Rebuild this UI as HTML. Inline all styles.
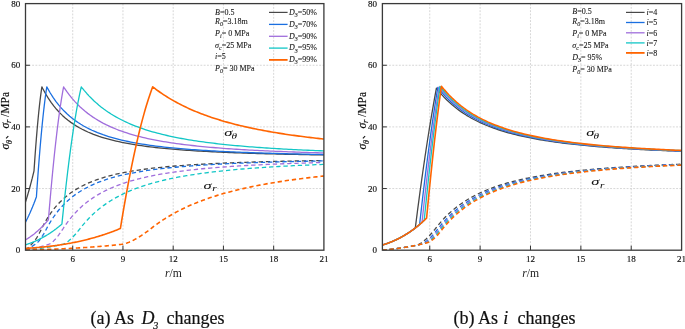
<!DOCTYPE html>
<html><head><meta charset="utf-8">
<style>
html,body{margin:0;padding:0;background:#fff;}
body{width:685px;height:329px;overflow:hidden;}
svg{display:block;font-family:"Liberation Serif",serif;-webkit-font-smoothing:antialiased;will-change:transform;}
.it{font-style:italic;}
</style></head>
<body>
<svg width="685" height="329" viewBox="0 0 685 329">
<defs>
<clipPath id="clipL"><rect x="25.5" y="3.6" width="298.4" height="246.6"/></clipPath>
<clipPath id="clipR"><rect x="382.4" y="3.6" width="299.2" height="246.6"/></clipPath>
</defs>
<rect width="685" height="329" fill="#fff"/>
<path d="M72.72,3.6 V250.2 M122.96,3.6 V250.2 M173.19,3.6 V250.2 M223.43,3.6 V250.2 M273.66,3.6 V250.2 M25.5,188.55 H323.9 M25.5,126.9 H323.9 M25.5,65.25 H323.9" stroke="#cdcdcd" stroke-width="0.8" stroke-dasharray="1.9 1.4" fill="none"/>
<path d="M25.50,201.99 L25.63,201.58 L25.77,201.13 L25.90,200.71 L26.05,200.25 L26.18,199.83 L26.32,199.37 L26.46,198.91 L26.59,198.48 L26.74,198.02 L26.87,197.59 L27.01,197.12 L27.15,196.64 L27.28,196.20 L27.42,195.73 L27.56,195.28 L27.70,194.80 L27.84,194.32 L27.97,193.87 L28.11,193.38 L28.25,192.92 L28.39,192.43 L28.53,191.93 L28.66,191.47 L28.80,190.97 L28.93,190.51 L29.08,190.00 L29.22,189.49 L29.35,189.02 L29.49,188.51 L29.62,188.03 L29.77,187.51 L29.91,186.99 L30.04,186.51 L30.18,185.99 L30.31,185.50 L30.45,184.97 L30.60,184.44 L30.73,183.94 L30.87,183.41 L31.00,182.91 L31.14,182.36 L31.29,181.82 L31.42,181.31 L31.56,180.76 L31.69,180.25 L31.83,179.70 L31.97,179.14 L32.11,178.63 L32.25,178.06 L32.38,177.54 L32.52,176.97 L32.66,176.40 L32.79,175.88 L32.94,175.30 L33.07,174.77 L33.21,174.19 L33.35,173.60 L33.48,173.06 L33.63,172.48 L33.76,171.93 L33.90,171.34 L34.01,170.86 L34.03,170.53 L34.17,168.43 L34.31,166.34 L34.45,164.44 L34.59,162.39 L34.72,160.53 L34.86,158.53 L35.00,156.55 L35.13,154.74 L35.28,152.80 L35.41,151.03 L35.55,149.14 L35.69,147.27 L35.82,145.56 L35.97,143.72 L36.10,142.05 L36.24,140.26 L36.38,138.50 L36.51,136.89 L36.66,135.16 L36.79,133.59 L36.93,131.90 L37.07,130.24 L37.20,128.73 L37.34,127.11 L37.48,125.63 L37.62,124.06 L37.76,122.50 L37.89,121.08 L38.03,119.57 L38.16,118.19 L38.31,116.72 L38.45,115.27 L38.58,113.95 L38.72,112.55 L38.85,111.27 L39.00,109.90 L39.14,108.56 L39.27,107.34 L39.41,106.03 L39.54,104.85 L39.68,103.59 L39.83,102.35 L39.96,101.23 L40.10,100.04 L40.23,98.95 L40.37,97.80 L40.52,96.67 L40.65,95.64 L40.79,94.55 L40.92,93.56 L41.06,92.52 L41.20,91.49 L41.34,90.56 L41.48,89.58 L41.61,88.69 L41.75,87.75 L41.89,86.83 L42.60,88.24 L45.43,93.51 L48.25,98.20 L51.08,102.39 L53.91,106.16 L56.74,109.55 L59.56,112.62 L62.39,115.40 L65.22,117.94 L68.04,120.25 L70.87,122.37 L73.70,124.31 L76.53,126.10 L79.35,127.75 L82.18,129.27 L85.01,130.68 L87.83,131.99 L90.66,133.20 L93.49,134.33 L96.32,135.38 L99.14,136.37 L101.97,137.29 L104.80,138.15 L107.62,138.96 L110.45,139.72 L113.28,140.44 L116.11,141.11 L118.93,141.74 L121.76,142.34 L124.59,142.91 L127.41,143.44 L130.24,143.95 L133.07,144.43 L135.90,144.88 L138.72,145.32 L141.55,145.73 L144.38,146.12 L147.20,146.49 L150.03,146.85 L152.86,147.18 L155.69,147.51 L158.51,147.81 L161.34,148.11 L164.17,148.39 L166.99,148.66 L169.82,148.92 L172.65,149.16 L175.48,149.40 L178.30,149.63 L181.13,149.84 L183.96,150.05 L186.78,150.25 L189.61,150.45 L192.44,150.63 L195.27,150.81 L198.09,150.98 L200.92,151.15 L203.75,151.31 L206.57,151.46 L209.40,151.61 L212.23,151.75 L215.06,151.89 L217.88,152.03 L220.71,152.15 L223.54,152.28 L226.36,152.40 L229.19,152.52 L232.02,152.63 L234.85,152.74 L237.67,152.84 L240.50,152.95 L243.33,153.05 L246.15,153.14 L248.98,153.23 L251.81,153.33 L254.64,153.41 L257.46,153.50 L260.29,153.58 L263.12,153.66 L265.94,153.74 L268.77,153.81 L271.60,153.89 L274.43,153.96 L277.25,154.03 L280.08,154.10 L282.91,154.16 L285.73,154.23 L288.56,154.29 L291.39,154.35 L294.22,154.41 L297.04,154.47 L299.87,154.52 L302.70,154.58 L305.52,154.63 L308.35,154.68 L311.18,154.73 L314.01,154.78 L316.83,154.83 L319.66,154.88 L322.49,154.92 L323.90,154.94" stroke="#484848" stroke-width="1.3" fill="none" stroke-linejoin="round" clip-path="url(#clipL)"/>
<path d="M25.50,250.20 L25.63,250.08 L25.77,249.95 L25.90,249.83 L26.05,249.70 L26.18,249.58 L26.32,249.45 L26.46,249.32 L26.59,249.19 L26.74,249.06 L26.87,248.94 L27.01,248.80 L27.15,248.67 L27.28,248.55 L27.42,248.41 L27.56,248.28 L27.70,248.15 L27.84,248.01 L27.97,247.88 L28.11,247.75 L28.25,247.62 L28.39,247.48 L28.53,247.34 L28.66,247.21 L28.80,247.07 L28.93,246.94 L29.08,246.80 L29.22,246.65 L29.35,246.52 L29.49,246.38 L29.62,246.25 L29.77,246.10 L29.91,245.96 L30.04,245.82 L30.18,245.68 L30.31,245.54 L30.45,245.39 L30.60,245.25 L30.73,245.11 L30.87,244.96 L31.00,244.82 L31.14,244.67 L31.29,244.52 L31.42,244.38 L31.56,244.23 L31.69,244.09 L31.83,243.94 L31.97,243.78 L32.11,243.64 L32.25,243.48 L32.38,243.34 L32.52,243.19 L32.66,243.03 L32.79,242.88 L32.94,242.73 L33.07,242.58 L33.21,242.42 L33.35,242.26 L33.48,242.11 L33.63,241.95 L33.76,241.80 L33.90,241.64 L34.01,241.52 L34.03,241.49 L34.17,241.33 L34.31,241.16 L34.45,241.00 L34.59,240.82 L34.72,240.65 L34.86,240.47 L35.00,240.28 L35.13,240.11 L35.28,239.91 L35.41,239.73 L35.55,239.53 L35.69,239.32 L35.82,239.13 L35.97,238.92 L36.10,238.72 L36.24,238.51 L36.38,238.29 L36.51,238.08 L36.66,237.85 L36.79,237.64 L36.93,237.41 L37.07,237.18 L37.20,236.96 L37.34,236.72 L37.48,236.50 L37.62,236.26 L37.76,236.01 L37.89,235.79 L38.03,235.54 L38.16,235.30 L38.31,235.05 L38.45,234.80 L38.58,234.56 L38.72,234.30 L38.85,234.06 L39.00,233.79 L39.14,233.53 L39.27,233.28 L39.41,233.02 L39.54,232.77 L39.68,232.50 L39.83,232.22 L39.96,231.97 L40.10,231.69 L40.23,231.44 L40.37,231.16 L40.52,230.88 L40.65,230.62 L40.79,230.34 L40.92,230.08 L41.06,229.80 L41.20,229.52 L41.34,229.25 L41.48,228.97 L41.61,228.70 L41.75,228.41 L41.89,228.13 L42.60,226.72 L45.43,221.49 L48.25,216.84 L51.08,212.67 L53.91,208.93 L56.74,205.56 L59.56,202.52 L62.39,199.75 L65.22,197.23 L68.04,194.94 L70.87,192.83 L73.70,190.90 L76.53,189.13 L79.35,187.49 L82.18,185.98 L85.01,184.58 L87.83,183.28 L90.66,182.08 L93.49,180.96 L96.32,179.91 L99.14,178.93 L101.97,178.02 L104.80,177.16 L107.62,176.36 L110.45,175.60 L113.28,174.89 L116.11,174.23 L118.93,173.60 L121.76,173.00 L124.59,172.44 L127.41,171.91 L130.24,171.40 L133.07,170.93 L135.90,170.48 L138.72,170.05 L141.55,169.64 L144.38,169.25 L147.20,168.88 L150.03,168.53 L152.86,168.19 L155.69,167.87 L158.51,167.57 L161.34,167.28 L164.17,167.00 L166.99,166.73 L169.82,166.47 L172.65,166.23 L175.48,165.99 L178.30,165.77 L181.13,165.55 L183.96,165.34 L186.78,165.14 L189.61,164.95 L192.44,164.77 L195.27,164.59 L198.09,164.42 L200.92,164.26 L203.75,164.10 L206.57,163.94 L209.40,163.80 L212.23,163.65 L215.06,163.52 L217.88,163.38 L220.71,163.26 L223.54,163.13 L226.36,163.01 L229.19,162.90 L232.02,162.79 L234.85,162.68 L237.67,162.57 L240.50,162.47 L243.33,162.37 L246.15,162.28 L248.98,162.18 L251.81,162.09 L254.64,162.01 L257.46,161.92 L260.29,161.84 L263.12,161.76 L265.94,161.68 L268.77,161.61 L271.60,161.54 L274.43,161.46 L277.25,161.40 L280.08,161.33 L282.91,161.26 L285.73,161.20 L288.56,161.14 L291.39,161.08 L294.22,161.02 L297.04,160.96 L299.87,160.91 L302.70,160.85 L305.52,160.80 L308.35,160.75 L311.18,160.70 L314.01,160.65 L316.83,160.60 L319.66,160.55 L322.49,160.51 L323.90,160.49" stroke="#484848" stroke-width="1.3" fill="none" stroke-dasharray="4.3 2.9" clip-path="url(#clipL)"/>
<path d="M25.50,222.09 L25.67,221.76 L25.86,221.41 L26.03,221.08 L26.21,220.72 L26.38,220.38 L26.57,220.02 L26.75,219.65 L26.92,219.31 L27.11,218.94 L27.28,218.59 L27.46,218.22 L27.65,217.84 L27.82,217.48 L28.00,217.10 L28.17,216.74 L28.36,216.36 L28.54,215.97 L28.71,215.60 L28.90,215.21 L29.07,214.84 L29.25,214.44 L29.44,214.04 L29.61,213.66 L29.79,213.25 L29.96,212.87 L30.15,212.46 L30.33,212.04 L30.50,211.66 L30.69,211.24 L30.86,210.85 L31.04,210.42 L31.23,209.99 L31.40,209.60 L31.58,209.16 L31.75,208.76 L31.94,208.32 L32.12,207.88 L32.29,207.47 L32.48,207.03 L32.65,206.61 L32.83,206.16 L33.02,205.71 L33.19,205.29 L33.37,204.83 L33.54,204.40 L33.73,203.94 L33.91,203.47 L34.08,203.03 L34.27,202.56 L34.44,202.12 L34.62,201.65 L34.81,201.17 L34.98,200.72 L35.16,200.23 L35.33,199.78 L35.52,199.29 L35.70,198.80 L35.87,198.34 L36.06,197.84 L36.23,197.38 L36.40,196.91 L36.41,196.73 L36.58,194.22 L36.77,191.52 L36.95,188.85 L37.12,186.41 L37.31,183.80 L37.48,181.41 L37.66,178.85 L37.85,176.31 L38.02,174.00 L38.20,171.52 L38.37,169.25 L38.56,166.83 L38.74,164.43 L38.91,162.24 L39.10,159.89 L39.27,157.75 L39.45,155.46 L39.64,153.20 L39.81,151.13 L39.99,148.92 L40.16,146.90 L40.35,144.75 L40.53,142.62 L40.70,140.67 L40.89,138.60 L41.06,136.71 L41.24,134.68 L41.43,132.69 L41.60,130.87 L41.78,128.93 L41.95,127.16 L42.14,125.27 L42.32,123.41 L42.49,121.72 L42.68,119.91 L42.85,118.27 L43.03,116.52 L43.22,114.79 L43.39,113.22 L43.57,111.55 L43.74,110.03 L43.93,108.41 L44.11,106.82 L44.28,105.38 L44.47,103.84 L44.64,102.44 L44.82,100.96 L45.01,99.50 L45.18,98.18 L45.36,96.78 L45.54,95.51 L45.72,94.16 L45.90,92.84 L46.08,91.64 L46.26,90.38 L46.43,89.23 L46.62,88.01 L46.80,86.83 L47.49,88.13 L50.27,93.00 L53.05,97.37 L55.83,101.32 L58.61,104.89 L61.38,108.13 L64.16,111.08 L66.94,113.78 L69.72,116.25 L72.50,118.52 L75.27,120.60 L78.05,122.53 L80.83,124.30 L83.61,125.95 L86.39,127.48 L89.16,128.90 L91.94,130.22 L94.72,131.45 L97.50,132.61 L100.28,133.69 L103.05,134.70 L105.83,135.64 L108.61,136.53 L111.39,137.37 L114.17,138.16 L116.94,138.90 L119.72,139.61 L122.50,140.27 L125.28,140.90 L128.05,141.49 L130.83,142.06 L133.61,142.59 L136.39,143.10 L139.17,143.58 L141.94,144.04 L144.72,144.48 L147.50,144.90 L150.28,145.29 L153.06,145.67 L155.83,146.03 L158.61,146.38 L161.39,146.71 L164.17,147.03 L166.95,147.33 L169.72,147.62 L172.50,147.90 L175.28,148.17 L178.06,148.42 L180.84,148.67 L183.61,148.91 L186.39,149.13 L189.17,149.35 L191.95,149.56 L194.73,149.76 L197.50,149.96 L200.28,150.15 L203.06,150.33 L205.84,150.50 L208.62,150.67 L211.39,150.84 L214.17,150.99 L216.95,151.14 L219.73,151.29 L222.50,151.43 L225.28,151.57 L228.06,151.70 L230.84,151.83 L233.62,151.96 L236.39,152.08 L239.17,152.19 L241.95,152.31 L244.73,152.42 L247.51,152.52 L250.28,152.63 L253.06,152.73 L255.84,152.83 L258.62,152.92 L261.40,153.01 L264.17,153.10 L266.95,153.19 L269.73,153.27 L272.51,153.35 L275.29,153.43 L278.06,153.51 L280.84,153.59 L283.62,153.66 L286.40,153.73 L289.18,153.80 L291.95,153.87 L294.73,153.94 L297.51,154.00 L300.29,154.06 L303.07,154.12 L305.84,154.18 L308.62,154.24 L311.40,154.30 L314.18,154.35 L316.96,154.41 L319.73,154.46 L322.51,154.51 L323.90,154.54" stroke="#1a6fe0" stroke-width="1.3" fill="none" stroke-linejoin="round" clip-path="url(#clipL)"/>
<path d="M25.50,250.20 L25.67,250.11 L25.86,250.01 L26.03,249.92 L26.21,249.82 L26.38,249.73 L26.57,249.63 L26.75,249.53 L26.92,249.43 L27.11,249.33 L27.28,249.24 L27.46,249.13 L27.65,249.03 L27.82,248.93 L28.00,248.83 L28.17,248.73 L28.36,248.63 L28.54,248.52 L28.71,248.42 L28.90,248.31 L29.07,248.21 L29.25,248.10 L29.44,247.99 L29.61,247.89 L29.79,247.78 L29.96,247.68 L30.15,247.57 L30.33,247.46 L30.50,247.35 L30.69,247.24 L30.86,247.13 L31.04,247.02 L31.23,246.90 L31.40,246.80 L31.58,246.68 L31.75,246.57 L31.94,246.45 L32.12,246.34 L32.29,246.23 L32.48,246.11 L32.65,245.99 L32.83,245.87 L33.02,245.75 L33.19,245.64 L33.37,245.52 L33.54,245.40 L33.73,245.28 L33.91,245.16 L34.08,245.04 L34.27,244.91 L34.44,244.80 L34.62,244.67 L34.81,244.54 L34.98,244.42 L35.16,244.29 L35.33,244.17 L35.52,244.04 L35.70,243.91 L35.87,243.79 L36.06,243.66 L36.23,243.54 L36.40,243.41 L36.41,243.40 L36.58,243.28 L36.77,243.13 L36.95,242.98 L37.12,242.84 L37.31,242.67 L37.48,242.51 L37.66,242.34 L37.85,242.16 L38.02,241.98 L38.20,241.79 L38.37,241.60 L38.56,241.40 L38.74,241.19 L38.91,240.99 L39.10,240.77 L39.27,240.56 L39.45,240.33 L39.64,240.09 L39.81,239.87 L39.99,239.63 L40.16,239.40 L40.35,239.14 L40.53,238.88 L40.70,238.64 L40.89,238.38 L41.06,238.13 L41.24,237.85 L41.43,237.57 L41.60,237.31 L41.78,237.03 L41.95,236.76 L42.14,236.47 L42.32,236.17 L42.49,235.90 L42.68,235.60 L42.85,235.31 L43.03,235.01 L43.22,234.70 L43.39,234.41 L43.57,234.09 L43.74,233.80 L43.93,233.48 L44.11,233.15 L44.28,232.85 L44.47,232.52 L44.64,232.22 L44.82,231.89 L45.01,231.55 L45.18,231.24 L45.36,230.90 L45.54,230.59 L45.72,230.25 L45.90,229.91 L46.08,229.59 L46.26,229.24 L46.43,228.92 L46.62,228.57 L46.80,228.22 L47.49,226.93 L50.27,222.09 L53.05,217.74 L55.83,213.82 L58.61,210.26 L61.38,207.04 L64.16,204.10 L66.94,201.42 L69.72,198.97 L72.50,196.71 L75.27,194.64 L78.05,192.73 L80.83,190.96 L83.61,189.32 L86.39,187.80 L89.16,186.39 L91.94,185.07 L94.72,183.85 L97.50,182.70 L100.28,181.63 L103.05,180.63 L105.83,179.68 L108.61,178.80 L111.39,177.96 L114.17,177.18 L116.94,176.44 L119.72,175.74 L122.50,175.08 L125.28,174.46 L128.05,173.87 L130.83,173.30 L133.61,172.77 L136.39,172.27 L139.17,171.79 L141.94,171.33 L144.72,170.90 L147.50,170.48 L150.28,170.09 L153.06,169.71 L155.83,169.35 L158.61,169.01 L161.39,168.68 L164.17,168.36 L166.95,168.06 L169.72,167.77 L172.50,167.50 L175.28,167.23 L178.06,166.98 L180.84,166.73 L183.61,166.50 L186.39,166.27 L189.17,166.05 L191.95,165.84 L194.73,165.64 L197.50,165.45 L200.28,165.26 L203.06,165.08 L205.84,164.91 L208.62,164.74 L211.39,164.58 L214.17,164.42 L216.95,164.27 L219.73,164.12 L222.50,163.98 L225.28,163.84 L228.06,163.71 L230.84,163.58 L233.62,163.46 L236.39,163.34 L239.17,163.22 L241.95,163.11 L244.73,163.00 L247.51,162.90 L250.28,162.79 L253.06,162.69 L255.84,162.60 L258.62,162.50 L261.40,162.41 L264.17,162.32 L266.95,162.24 L269.73,162.15 L272.51,162.07 L275.29,161.99 L278.06,161.91 L280.84,161.84 L283.62,161.77 L286.40,161.70 L289.18,161.63 L291.95,161.56 L294.73,161.49 L297.51,161.43 L300.29,161.37 L303.07,161.31 L305.84,161.25 L308.62,161.19 L311.40,161.13 L314.18,161.08 L316.96,161.02 L319.73,160.97 L322.51,160.92 L323.90,160.89" stroke="#1a6fe0" stroke-width="1.3" fill="none" stroke-dasharray="4.3 2.9" clip-path="url(#clipL)"/>
<path d="M25.50,239.87 L25.80,239.69 L26.14,239.49 L26.44,239.31 L26.77,239.10 L27.08,238.91 L27.41,238.70 L27.74,238.49 L28.04,238.29 L28.37,238.08 L28.68,237.88 L29.01,237.66 L29.34,237.43 L29.64,237.22 L29.97,237.00 L30.28,236.78 L30.61,236.55 L30.94,236.31 L31.24,236.09 L31.57,235.85 L31.88,235.63 L32.21,235.38 L32.54,235.14 L32.84,234.90 L33.17,234.65 L33.48,234.41 L33.81,234.16 L34.14,233.89 L34.45,233.65 L34.78,233.38 L35.08,233.13 L35.41,232.86 L35.74,232.59 L36.05,232.33 L36.38,232.05 L36.68,231.79 L37.01,231.50 L37.34,231.22 L37.65,230.95 L37.98,230.65 L38.28,230.38 L38.61,230.08 L38.94,229.78 L39.25,229.49 L39.58,229.19 L39.88,228.90 L40.21,228.58 L40.55,228.27 L40.85,227.97 L41.18,227.65 L41.49,227.35 L41.82,227.02 L42.15,226.69 L42.45,226.38 L42.78,226.04 L43.09,225.73 L43.42,225.38 L43.75,225.04 L44.05,224.71 L44.38,224.36 L44.69,224.03 L45.02,223.67 L45.32,223.34 L45.65,222.98 L45.98,222.61 L46.29,222.26 L46.62,221.89 L46.92,221.54 L47.25,221.16 L47.58,220.78 L47.89,220.42 L48.22,220.03 L48.40,219.82 L48.52,218.37 L48.86,214.36 L49.19,210.41 L49.49,206.80 L49.82,202.94 L50.13,199.42 L50.46,195.66 L50.79,191.95 L51.09,188.56 L51.42,184.95 L51.73,181.66 L52.06,178.14 L52.39,174.67 L52.69,171.51 L53.02,168.14 L53.33,165.07 L53.66,161.80 L53.99,158.57 L54.29,155.64 L54.62,152.51 L54.93,149.67 L55.26,146.64 L55.59,143.66 L55.89,140.95 L56.23,138.07 L56.53,135.45 L56.86,132.67 L57.19,129.93 L57.50,127.45 L57.83,124.81 L58.13,122.42 L58.46,119.87 L58.79,117.38 L59.10,115.12 L59.43,112.73 L59.73,110.56 L60.06,108.26 L60.39,106.01 L60.70,103.98 L61.03,101.83 L61.33,99.89 L61.66,97.83 L61.99,95.83 L62.30,94.02 L62.63,92.12 L62.93,90.40 L63.27,88.59 L63.60,86.83 L64.25,87.83 L66.86,91.63 L69.47,95.13 L72.08,98.36 L74.69,101.35 L77.30,104.11 L79.91,106.68 L82.51,109.07 L85.12,111.29 L87.73,113.37 L90.34,115.31 L92.95,117.12 L95.56,118.82 L98.17,120.42 L100.78,121.92 L103.39,123.33 L106.00,124.66 L108.61,125.91 L111.22,127.09 L113.83,128.21 L116.44,129.27 L119.05,130.27 L121.66,131.22 L124.27,132.13 L126.88,132.98 L129.49,133.80 L132.10,134.57 L134.71,135.31 L137.32,136.01 L139.93,136.68 L142.53,137.32 L145.14,137.94 L147.75,138.52 L150.36,139.08 L152.97,139.61 L155.58,140.12 L158.19,140.62 L160.80,141.09 L163.41,141.54 L166.02,141.97 L168.63,142.39 L171.24,142.79 L173.85,143.17 L176.46,143.54 L179.07,143.89 L181.68,144.24 L184.29,144.57 L186.90,144.89 L189.51,145.19 L192.12,145.49 L194.73,145.77 L197.34,146.05 L199.95,146.31 L202.55,146.57 L205.16,146.82 L207.77,147.06 L210.38,147.29 L212.99,147.52 L215.60,147.74 L218.21,147.95 L220.82,148.15 L223.43,148.35 L226.04,148.54 L228.65,148.73 L231.26,148.91 L233.87,149.08 L236.48,149.25 L239.09,149.42 L241.70,149.58 L244.31,149.73 L246.92,149.88 L249.53,150.03 L252.14,150.17 L254.75,150.31 L257.36,150.45 L259.97,150.58 L262.58,150.71 L265.18,150.83 L267.79,150.95 L270.40,151.07 L273.01,151.19 L275.62,151.30 L278.23,151.41 L280.84,151.51 L283.45,151.62 L286.06,151.72 L288.67,151.82 L291.28,151.91 L293.89,152.01 L296.50,152.10 L299.11,152.19 L301.72,152.28 L304.33,152.36 L306.94,152.44 L309.55,152.53 L312.16,152.60 L314.77,152.68 L317.38,152.76 L319.99,152.83 L322.60,152.91 L323.90,152.94" stroke="#a06edc" stroke-width="1.3" fill="none" stroke-linejoin="round" clip-path="url(#clipL)"/>
<path d="M25.50,250.20 L25.80,250.14 L26.14,250.08 L26.44,250.02 L26.77,249.95 L27.08,249.89 L27.41,249.82 L27.74,249.76 L28.04,249.69 L28.37,249.63 L28.68,249.56 L29.01,249.49 L29.34,249.43 L29.64,249.36 L29.97,249.29 L30.28,249.23 L30.61,249.15 L30.94,249.08 L31.24,249.02 L31.57,248.94 L31.88,248.88 L32.21,248.80 L32.54,248.73 L32.84,248.66 L33.17,248.58 L33.48,248.51 L33.81,248.44 L34.14,248.36 L34.45,248.29 L34.78,248.21 L35.08,248.14 L35.41,248.06 L35.74,247.98 L36.05,247.91 L36.38,247.82 L36.68,247.75 L37.01,247.67 L37.34,247.58 L37.65,247.51 L37.98,247.42 L38.28,247.35 L38.61,247.26 L38.94,247.17 L39.25,247.09 L39.58,247.01 L39.88,246.93 L40.21,246.84 L40.55,246.75 L40.85,246.67 L41.18,246.58 L41.49,246.49 L41.82,246.40 L42.15,246.31 L42.45,246.22 L42.78,246.13 L43.09,246.04 L43.42,245.95 L43.75,245.85 L44.05,245.76 L44.38,245.66 L44.69,245.57 L45.02,245.47 L45.32,245.38 L45.65,245.28 L45.98,245.18 L46.29,245.09 L46.62,244.99 L46.92,244.89 L47.25,244.79 L47.58,244.68 L47.89,244.59 L48.22,244.48 L48.40,244.42 L48.52,244.38 L48.86,244.26 L49.19,244.12 L49.49,243.98 L49.82,243.82 L50.13,243.65 L50.46,243.45 L50.79,243.25 L51.09,243.04 L51.42,242.81 L51.73,242.58 L52.06,242.32 L52.39,242.05 L52.69,241.78 L53.02,241.49 L53.33,241.21 L53.66,240.89 L53.99,240.57 L54.29,240.26 L54.62,239.91 L54.93,239.58 L55.26,239.22 L55.59,238.85 L55.89,238.49 L56.23,238.10 L56.53,237.74 L56.86,237.33 L57.19,236.92 L57.50,236.53 L57.83,236.11 L58.13,235.71 L58.46,235.27 L58.79,234.82 L59.10,234.41 L59.43,233.95 L59.73,233.52 L60.06,233.06 L60.39,232.59 L60.70,232.15 L61.03,231.66 L61.33,231.22 L61.66,230.73 L61.99,230.23 L62.30,229.78 L62.63,229.28 L62.93,228.81 L63.27,228.31 L63.60,227.80 L64.25,226.81 L66.86,223.05 L69.47,219.59 L72.08,216.40 L74.69,213.45 L77.30,210.71 L79.91,208.17 L82.51,205.81 L85.12,203.62 L87.73,201.57 L90.34,199.65 L92.95,197.86 L95.56,196.18 L98.17,194.60 L100.78,193.12 L103.39,191.72 L106.00,190.41 L108.61,189.17 L111.22,188.00 L113.83,186.89 L116.44,185.85 L119.05,184.86 L121.66,183.92 L124.27,183.03 L126.88,182.18 L129.49,181.37 L132.10,180.61 L134.71,179.88 L137.32,179.18 L139.93,178.52 L142.53,177.89 L145.14,177.28 L147.75,176.71 L150.36,176.16 L152.97,175.63 L155.58,175.12 L158.19,174.64 L160.80,174.17 L163.41,173.73 L166.02,173.30 L168.63,172.89 L171.24,172.49 L173.85,172.11 L176.46,171.75 L179.07,171.39 L181.68,171.06 L184.29,170.73 L186.90,170.42 L189.51,170.11 L192.12,169.82 L194.73,169.54 L197.34,169.27 L199.95,169.00 L202.55,168.75 L205.16,168.50 L207.77,168.27 L210.38,168.04 L212.99,167.81 L215.60,167.60 L218.21,167.39 L220.82,167.19 L223.43,166.99 L226.04,166.80 L228.65,166.62 L231.26,166.44 L233.87,166.27 L236.48,166.10 L239.09,165.94 L241.70,165.78 L244.31,165.62 L246.92,165.48 L249.53,165.33 L252.14,165.19 L254.75,165.05 L257.36,164.92 L259.97,164.79 L262.58,164.66 L265.18,164.54 L267.79,164.42 L270.40,164.30 L273.01,164.19 L275.62,164.08 L278.23,163.97 L280.84,163.86 L283.45,163.76 L286.06,163.66 L288.67,163.56 L291.28,163.47 L293.89,163.38 L296.50,163.29 L299.11,163.20 L301.72,163.11 L304.33,163.03 L306.94,162.94 L309.55,162.86 L312.16,162.79 L314.77,162.71 L317.38,162.63 L319.99,162.56 L322.60,162.49 L323.90,162.45" stroke="#a06edc" stroke-width="1.3" fill="none" stroke-dasharray="4.3 2.9" clip-path="url(#clipL)"/>
<path d="M25.50,244.81 L25.95,244.66 L26.43,244.51 L26.88,244.36 L27.36,244.20 L27.81,244.05 L28.29,243.88 L28.78,243.71 L29.22,243.55 L29.71,243.38 L30.15,243.21 L30.64,243.03 L31.12,242.85 L31.57,242.68 L32.05,242.49 L32.50,242.31 L32.98,242.12 L33.47,241.92 L33.91,241.73 L34.40,241.53 L34.84,241.34 L35.33,241.13 L35.81,240.91 L36.26,240.71 L36.74,240.50 L37.19,240.29 L37.67,240.06 L38.16,239.84 L38.60,239.62 L39.09,239.39 L39.53,239.17 L40.02,238.92 L40.50,238.68 L40.95,238.45 L41.43,238.20 L41.88,237.96 L42.36,237.70 L42.85,237.44 L43.29,237.20 L43.78,236.93 L44.22,236.68 L44.71,236.40 L45.19,236.12 L45.64,235.86 L46.12,235.58 L46.57,235.31 L47.05,235.01 L47.54,234.72 L47.98,234.44 L48.47,234.14 L48.91,233.85 L49.40,233.54 L49.88,233.22 L50.33,232.93 L50.81,232.61 L51.26,232.31 L51.74,231.98 L52.23,231.64 L52.67,231.33 L53.16,230.99 L53.60,230.67 L54.09,230.32 L54.53,229.99 L55.02,229.63 L55.50,229.27 L55.95,228.94 L56.43,228.57 L56.88,228.22 L57.36,227.84 L57.85,227.46 L58.29,227.11 L58.78,226.72 L59.22,226.35 L59.71,225.95 L60.19,225.55 L60.64,225.18 L61.12,224.77 L61.57,224.38 L61.90,224.09 L62.05,222.63 L62.54,217.89 L62.98,213.58 L63.47,208.97 L63.91,204.78 L64.40,200.30 L64.88,195.89 L65.33,191.88 L65.81,187.60 L66.26,183.71 L66.74,179.57 L67.23,175.49 L67.67,171.79 L68.16,167.84 L68.60,164.26 L69.09,160.45 L69.57,156.70 L70.02,153.30 L70.50,149.69 L70.95,146.41 L71.43,142.93 L71.92,139.51 L72.36,136.42 L72.85,133.14 L73.29,130.17 L73.78,127.02 L74.26,123.93 L74.71,121.15 L75.19,118.20 L75.64,115.53 L76.12,112.71 L76.61,109.96 L77.05,107.48 L77.54,104.86 L77.98,102.50 L78.47,100.01 L78.95,97.59 L79.40,95.42 L79.88,93.13 L80.33,91.07 L80.81,88.92 L81.30,86.83 L81.90,87.61 L84.34,90.62 L86.77,93.44 L89.20,96.09 L91.63,98.57 L94.06,100.91 L96.50,103.11 L98.93,105.19 L101.36,107.15 L103.79,109.00 L106.22,110.76 L108.66,112.42 L111.09,113.99 L113.52,115.48 L115.95,116.90 L118.39,118.25 L120.82,119.53 L123.25,120.75 L125.68,121.91 L128.11,123.02 L130.55,124.08 L132.98,125.09 L135.41,126.06 L137.84,126.98 L140.27,127.86 L142.71,128.71 L145.14,129.52 L147.57,130.30 L150.00,131.04 L152.43,131.76 L154.87,132.45 L157.30,133.11 L159.73,133.74 L162.16,134.35 L164.60,134.94 L167.03,135.50 L169.46,136.05 L171.89,136.57 L174.32,137.08 L176.76,137.57 L179.19,138.04 L181.62,138.49 L184.05,138.93 L186.48,139.36 L188.92,139.77 L191.35,140.16 L193.78,140.55 L196.21,140.92 L198.65,141.28 L201.08,141.62 L203.51,141.96 L205.94,142.29 L208.37,142.60 L210.81,142.91 L213.24,143.21 L215.67,143.50 L218.10,143.78 L220.53,144.05 L222.97,144.31 L225.40,144.57 L227.83,144.82 L230.26,145.06 L232.70,145.30 L235.13,145.53 L237.56,145.75 L239.99,145.96 L242.42,146.18 L244.86,146.38 L247.29,146.58 L249.72,146.78 L252.15,146.96 L254.58,147.15 L257.02,147.33 L259.45,147.50 L261.88,147.68 L264.31,147.84 L266.74,148.00 L269.18,148.16 L271.61,148.32 L274.04,148.47 L276.47,148.62 L278.91,148.76 L281.34,148.90 L283.77,149.04 L286.20,149.17 L288.63,149.30 L291.07,149.43 L293.50,149.56 L295.93,149.68 L298.36,149.80 L300.79,149.91 L303.23,150.03 L305.66,150.14 L308.09,150.25 L310.52,150.36 L312.96,150.46 L315.39,150.57 L317.82,150.67 L320.25,150.76 L322.68,150.86 L323.90,150.91" stroke="#12c6c6" stroke-width="1.3" fill="none" stroke-linejoin="round" clip-path="url(#clipL)"/>
<path d="M25.50,250.20 L25.95,250.15 L26.43,250.10 L26.88,250.06 L27.36,250.01 L27.81,249.96 L28.29,249.91 L28.78,249.86 L29.22,249.81 L29.71,249.75 L30.15,249.70 L30.64,249.65 L31.12,249.59 L31.57,249.54 L32.05,249.49 L32.50,249.43 L32.98,249.38 L33.47,249.32 L33.91,249.26 L34.40,249.21 L34.84,249.15 L35.33,249.09 L35.81,249.03 L36.26,248.97 L36.74,248.91 L37.19,248.85 L37.67,248.78 L38.16,248.72 L38.60,248.66 L39.09,248.59 L39.53,248.53 L40.02,248.46 L40.50,248.39 L40.95,248.33 L41.43,248.26 L41.88,248.20 L42.36,248.12 L42.85,248.05 L43.29,247.98 L43.78,247.91 L44.22,247.84 L44.71,247.77 L45.19,247.69 L45.64,247.62 L46.12,247.54 L46.57,247.47 L47.05,247.39 L47.54,247.31 L47.98,247.23 L48.47,247.15 L48.91,247.07 L49.40,246.99 L49.88,246.91 L50.33,246.83 L50.81,246.74 L51.26,246.66 L51.74,246.57 L52.23,246.48 L52.67,246.40 L53.16,246.31 L53.60,246.22 L54.09,246.13 L54.53,246.04 L55.02,245.95 L55.50,245.85 L55.95,245.76 L56.43,245.66 L56.88,245.57 L57.36,245.47 L57.85,245.37 L58.29,245.28 L58.78,245.18 L59.22,245.08 L59.71,244.98 L60.19,244.87 L60.64,244.77 L61.12,244.66 L61.57,244.56 L61.90,244.49 L62.05,244.45 L62.54,244.32 L62.98,244.18 L63.47,244.01 L63.91,243.83 L64.40,243.61 L64.88,243.37 L65.33,243.13 L65.81,242.86 L66.26,242.59 L66.74,242.27 L67.23,241.94 L67.67,241.62 L68.16,241.26 L68.60,240.91 L69.09,240.52 L69.57,240.11 L70.02,239.72 L70.50,239.29 L70.95,238.88 L71.43,238.42 L71.92,237.95 L72.36,237.50 L72.85,237.00 L73.29,236.54 L73.78,236.02 L74.26,235.50 L74.71,235.01 L75.19,234.47 L75.64,233.96 L76.12,233.40 L76.61,232.83 L77.05,232.30 L77.54,231.72 L77.98,231.18 L78.47,230.59 L78.95,229.99 L79.40,229.44 L79.88,228.83 L80.33,228.26 L80.81,227.65 L81.30,227.03 L81.90,226.26 L84.34,223.32 L86.77,220.56 L89.20,217.98 L91.63,215.55 L94.06,213.26 L96.50,211.11 L98.93,209.08 L101.36,207.16 L103.79,205.35 L106.22,203.64 L108.66,202.01 L111.09,200.48 L113.52,199.02 L115.95,197.63 L118.39,196.31 L120.82,195.06 L123.25,193.87 L125.68,192.73 L128.11,191.65 L130.55,190.61 L132.98,189.62 L135.41,188.68 L137.84,187.78 L140.27,186.91 L142.71,186.09 L145.14,185.29 L147.57,184.54 L150.00,183.81 L152.43,183.11 L154.87,182.44 L157.30,181.79 L159.73,181.17 L162.16,180.57 L164.60,180.00 L167.03,179.45 L169.46,178.91 L171.89,178.40 L174.32,177.91 L176.76,177.43 L179.19,176.97 L181.62,176.52 L184.05,176.09 L186.48,175.68 L188.92,175.28 L191.35,174.89 L193.78,174.52 L196.21,174.15 L198.65,173.80 L201.08,173.46 L203.51,173.13 L205.94,172.81 L208.37,172.51 L210.81,172.21 L213.24,171.91 L215.67,171.63 L218.10,171.36 L220.53,171.09 L222.97,170.83 L225.40,170.58 L227.83,170.34 L230.26,170.10 L232.70,169.87 L235.13,169.65 L237.56,169.43 L239.99,169.22 L242.42,169.01 L244.86,168.81 L247.29,168.62 L249.72,168.43 L252.15,168.24 L254.58,168.06 L257.02,167.89 L259.45,167.72 L261.88,167.55 L264.31,167.39 L266.74,167.23 L269.18,167.07 L271.61,166.92 L274.04,166.77 L276.47,166.63 L278.91,166.49 L281.34,166.35 L283.77,166.22 L286.20,166.09 L288.63,165.96 L291.07,165.83 L293.50,165.71 L295.93,165.59 L298.36,165.47 L300.79,165.36 L303.23,165.25 L305.66,165.14 L308.09,165.03 L310.52,164.93 L312.96,164.82 L315.39,164.72 L317.82,164.63 L320.25,164.53 L322.68,164.44 L323.90,164.39" stroke="#12c6c6" stroke-width="1.3" fill="none" stroke-dasharray="4.3 2.9" clip-path="url(#clipL)"/>
<path d="M25.50,248.35 L26.52,248.29 L27.62,248.23 L28.64,248.16 L29.74,248.09 L30.76,248.02 L31.86,247.95 L32.97,247.87 L33.99,247.79 L35.09,247.71 L36.11,247.63 L37.21,247.54 L38.31,247.44 L39.33,247.35 L40.43,247.26 L41.45,247.16 L42.56,247.06 L43.66,246.95 L44.68,246.84 L45.78,246.73 L46.80,246.62 L47.90,246.50 L49.00,246.37 L50.02,246.25 L51.13,246.12 L52.14,245.99 L53.25,245.85 L54.35,245.71 L55.37,245.58 L56.47,245.43 L57.49,245.28 L58.59,245.13 L59.70,244.96 L60.71,244.81 L61.82,244.64 L62.84,244.48 L63.94,244.30 L65.04,244.12 L66.06,243.95 L67.16,243.76 L68.18,243.58 L69.28,243.38 L70.39,243.18 L71.41,242.99 L72.51,242.77 L73.53,242.57 L74.63,242.35 L75.73,242.13 L76.75,241.92 L77.86,241.68 L78.87,241.46 L79.98,241.22 L81.08,240.97 L82.10,240.73 L83.20,240.48 L84.22,240.23 L85.32,239.96 L86.43,239.69 L87.44,239.43 L88.55,239.15 L89.57,238.88 L90.67,238.59 L91.69,238.32 L92.79,238.01 L93.89,237.70 L94.91,237.41 L96.01,237.09 L97.03,236.79 L98.14,236.46 L99.24,236.12 L100.26,235.81 L101.36,235.46 L102.38,235.13 L103.48,234.77 L104.58,234.41 L105.60,234.07 L106.71,233.69 L107.72,233.34 L108.83,232.95 L109.93,232.56 L110.95,232.19 L112.05,231.78 L113.07,231.40 L114.17,230.98 L115.28,230.56 L116.29,230.16 L117.40,229.72 L118.42,229.31 L119.52,228.86 L120.37,228.51 L120.62,227.11 L121.64,220.94 L122.74,214.38 L123.76,208.45 L124.86,202.14 L125.97,195.97 L126.99,190.39 L128.09,184.47 L129.11,179.13 L130.21,173.46 L131.31,167.93 L132.33,162.94 L133.43,157.67 L134.45,152.91 L135.56,147.89 L136.66,143.00 L137.68,138.60 L138.78,133.97 L139.80,129.80 L140.90,125.42 L142.01,121.17 L143.02,117.37 L144.13,113.37 L145.14,109.80 L146.25,106.06 L147.35,102.45 L148.37,99.23 L149.47,95.88 L150.49,92.90 L151.59,89.80 L152.70,86.83 L153.13,87.16 L154.84,88.48 L156.56,89.77 L158.27,91.02 L159.99,92.23 L161.71,93.41 L163.42,94.56 L165.14,95.68 L166.86,96.77 L168.57,97.83 L170.29,98.86 L172.01,99.87 L173.72,100.85 L175.44,101.81 L177.15,102.74 L178.87,103.65 L180.59,104.54 L182.30,105.40 L184.02,106.25 L185.74,107.07 L187.45,107.88 L189.17,108.66 L190.88,109.43 L192.60,110.18 L194.32,110.91 L196.03,111.63 L197.75,112.33 L199.47,113.01 L201.18,113.68 L202.90,114.33 L204.62,114.97 L206.33,115.59 L208.05,116.21 L209.76,116.80 L211.48,117.39 L213.20,117.96 L214.91,118.52 L216.63,119.07 L218.35,119.61 L220.06,120.13 L221.78,120.65 L223.50,121.15 L225.21,121.65 L226.93,122.13 L228.64,122.61 L230.36,123.07 L232.08,123.53 L233.79,123.98 L235.51,124.42 L237.23,124.85 L238.94,125.27 L240.66,125.68 L242.37,126.09 L244.09,126.49 L245.81,126.88 L247.52,127.26 L249.24,127.64 L250.96,128.01 L252.67,128.37 L254.39,128.72 L256.11,129.07 L257.82,129.42 L259.54,129.75 L261.25,130.09 L262.97,130.41 L264.69,130.73 L266.40,131.05 L268.12,131.35 L269.84,131.66 L271.55,131.96 L273.27,132.25 L274.98,132.54 L276.70,132.82 L278.42,133.10 L280.13,133.37 L281.85,133.64 L283.57,133.91 L285.28,134.17 L287.00,134.42 L288.72,134.67 L290.43,134.92 L292.15,135.17 L293.86,135.41 L295.58,135.64 L297.30,135.88 L299.01,136.10 L300.73,136.33 L302.45,136.55 L304.16,136.77 L305.88,136.99 L307.59,137.20 L309.31,137.41 L311.03,137.61 L312.74,137.81 L314.46,138.01 L316.18,138.21 L317.89,138.40 L319.61,138.59 L321.33,138.78 L323.04,138.97 L323.90,139.06" stroke="#ff6400" stroke-width="1.6" fill="none" stroke-linejoin="round" clip-path="url(#clipL)"/>
<path d="M25.50,250.20 L26.52,250.16 L27.62,250.13 L28.64,250.09 L29.74,250.05 L30.76,250.02 L31.86,249.98 L32.97,249.94 L33.99,249.91 L35.09,249.87 L36.11,249.84 L37.21,249.80 L38.31,249.76 L39.33,249.72 L40.43,249.68 L41.45,249.65 L42.56,249.61 L43.66,249.57 L44.68,249.53 L45.78,249.49 L46.80,249.45 L47.90,249.41 L49.00,249.37 L50.02,249.33 L51.13,249.28 L52.14,249.24 L53.25,249.20 L54.35,249.15 L55.37,249.11 L56.47,249.06 L57.49,249.02 L58.59,248.97 L59.70,248.92 L60.71,248.87 L61.82,248.82 L62.84,248.77 L63.94,248.72 L65.04,248.67 L66.06,248.62 L67.16,248.56 L68.18,248.51 L69.28,248.45 L70.39,248.39 L71.41,248.34 L72.51,248.28 L73.53,248.22 L74.63,248.16 L75.73,248.10 L76.75,248.04 L77.86,247.97 L78.87,247.91 L79.98,247.84 L81.08,247.78 L82.10,247.71 L83.20,247.64 L84.22,247.57 L85.32,247.50 L86.43,247.43 L87.44,247.36 L88.55,247.28 L89.57,247.21 L90.67,247.13 L91.69,247.06 L92.79,246.98 L93.89,246.89 L94.91,246.82 L96.01,246.73 L97.03,246.65 L98.14,246.56 L99.24,246.47 L100.26,246.39 L101.36,246.30 L102.38,246.21 L103.48,246.12 L104.58,246.02 L105.60,245.93 L106.71,245.83 L107.72,245.74 L108.83,245.64 L109.93,245.53 L110.95,245.44 L112.05,245.33 L113.07,245.23 L114.17,245.12 L115.28,245.01 L116.29,244.91 L117.40,244.79 L118.42,244.69 L119.52,244.57 L120.37,244.48 L120.62,244.45 L121.64,244.31 L122.74,244.12 L123.76,243.90 L124.86,243.62 L125.97,243.30 L126.99,242.97 L128.09,242.58 L129.11,242.18 L130.21,241.72 L131.31,241.23 L132.33,240.75 L133.43,240.20 L134.45,239.66 L135.56,239.06 L136.66,238.43 L137.68,237.83 L138.78,237.16 L139.80,236.52 L140.90,235.81 L142.01,235.07 L143.02,234.38 L144.13,233.62 L145.14,232.90 L146.25,232.11 L147.35,231.30 L148.37,230.55 L149.47,229.72 L150.49,228.95 L151.59,228.10 L152.70,227.25 L153.13,226.92 L154.84,225.62 L156.56,224.36 L158.27,223.14 L159.99,221.95 L161.71,220.79 L163.42,219.66 L165.14,218.57 L166.86,217.50 L168.57,216.46 L170.29,215.44 L172.01,214.46 L173.72,213.49 L175.44,212.56 L177.15,211.64 L178.87,210.75 L180.59,209.88 L182.30,209.03 L184.02,208.20 L185.74,207.39 L187.45,206.60 L189.17,205.83 L190.88,205.08 L192.60,204.35 L194.32,203.63 L196.03,202.93 L197.75,202.24 L199.47,201.57 L201.18,200.92 L202.90,200.28 L204.62,199.65 L206.33,199.04 L208.05,198.44 L209.76,197.85 L211.48,197.28 L213.20,196.72 L214.91,196.17 L216.63,195.63 L218.35,195.10 L220.06,194.59 L221.78,194.08 L223.50,193.59 L225.21,193.10 L226.93,192.63 L228.64,192.16 L230.36,191.70 L232.08,191.26 L233.79,190.82 L235.51,190.39 L237.23,189.97 L238.94,189.55 L240.66,189.15 L242.37,188.75 L244.09,188.36 L245.81,187.97 L247.52,187.60 L249.24,187.23 L250.96,186.87 L252.67,186.51 L254.39,186.16 L256.11,185.82 L257.82,185.48 L259.54,185.15 L261.25,184.83 L262.97,184.51 L264.69,184.19 L266.40,183.89 L268.12,183.58 L269.84,183.29 L271.55,182.99 L273.27,182.71 L274.98,182.42 L276.70,182.15 L278.42,181.87 L280.13,181.61 L281.85,181.34 L283.57,181.08 L285.28,180.83 L287.00,180.58 L288.72,180.33 L290.43,180.08 L292.15,179.85 L293.86,179.61 L295.58,179.38 L297.30,179.15 L299.01,178.93 L300.73,178.70 L302.45,178.49 L304.16,178.27 L305.88,178.06 L307.59,177.85 L309.31,177.65 L311.03,177.45 L312.74,177.25 L314.46,177.05 L316.18,176.86 L317.89,176.67 L319.61,176.49 L321.33,176.30 L323.04,176.12 L323.90,176.03" stroke="#ff6400" stroke-width="1.6" fill="none" stroke-dasharray="4.3 2.9" clip-path="url(#clipL)"/>
<path d="M72.72,250.2 V245.7 M122.96,250.2 V245.7 M173.19,250.2 V245.7 M223.43,250.2 V245.7 M273.66,250.2 V245.7 M25.5,188.55 H29.9 M25.5,126.9 H29.9 M25.5,65.25 H29.9" stroke="#333" stroke-width="1" fill="none"/>
<rect x="25.5" y="3.6" width="298.4" height="246.6" fill="none" stroke="#3a3a3a" stroke-width="1.3"/>
<g font-size="9" fill="#111" stroke="#111" stroke-width="0.15"><text x="20.2" y="253.3" text-anchor="end">0</text><text x="20.2" y="191.65" text-anchor="end">20</text><text x="20.2" y="130" text-anchor="end">40</text><text x="20.2" y="68.35" text-anchor="end">60</text><text x="20.2" y="6.7" text-anchor="end">80</text><text x="72.72" y="262.4" text-anchor="middle">6</text><text x="122.96" y="262.4" text-anchor="middle">9</text><text x="173.19" y="262.4" text-anchor="middle">12</text><text x="223.43" y="262.4" text-anchor="middle">15</text><text x="273.66" y="262.4" text-anchor="middle">18</text><text x="323.9" y="262.4" text-anchor="middle">21</text></g>
<path d="M429.75,3.6 V250.2 M480.12,3.6 V250.2 M530.49,3.6 V250.2 M580.86,3.6 V250.2 M631.23,3.6 V250.2 M382.4,188.55 H681.6 M382.4,126.9 H681.6 M382.4,65.25 H681.6" stroke="#cdcdcd" stroke-width="0.8" stroke-dasharray="1.9 1.4" fill="none"/>
<path d="M382.40,245.02 L382.83,244.89 L383.30,244.75 L383.73,244.61 L384.20,244.46 L384.63,244.32 L385.10,244.16 L385.57,244.01 L386.00,243.86 L386.47,243.70 L386.90,243.55 L387.37,243.38 L387.84,243.21 L388.27,243.05 L388.74,242.88 L389.17,242.71 L389.64,242.53 L390.11,242.35 L390.54,242.18 L391.01,241.99 L391.44,241.82 L391.91,241.62 L392.38,241.43 L392.81,241.24 L393.28,241.04 L393.71,240.85 L394.18,240.65 L394.65,240.44 L395.08,240.24 L395.55,240.02 L395.98,239.82 L396.45,239.60 L396.92,239.38 L397.35,239.17 L397.82,238.94 L398.25,238.72 L398.72,238.49 L399.19,238.25 L399.62,238.02 L400.09,237.78 L400.52,237.55 L400.99,237.30 L401.46,237.04 L401.89,236.80 L402.36,236.54 L402.79,236.30 L403.26,236.03 L403.73,235.76 L404.16,235.51 L404.63,235.23 L405.06,234.97 L405.53,234.69 L406.00,234.40 L406.43,234.13 L406.90,233.84 L407.34,233.57 L407.80,233.27 L408.27,232.96 L408.70,232.68 L409.17,232.37 L409.61,232.08 L410.07,231.76 L410.51,231.46 L410.97,231.14 L411.44,230.81 L411.88,230.51 L412.34,230.17 L412.78,229.86 L413.24,229.52 L413.71,229.17 L414.15,228.85 L414.61,228.50 L415.05,228.17 L415.30,227.97 L415.51,226.33 L415.98,222.64 L416.42,219.25 L416.88,215.60 L417.32,212.27 L417.78,208.68 L418.25,205.11 L418.69,201.85 L419.15,198.34 L419.59,195.12 L420.05,191.67 L420.52,188.24 L420.96,185.10 L421.42,181.72 L421.86,178.63 L422.32,175.30 L422.79,172.01 L423.23,168.99 L423.69,165.75 L424.13,162.78 L424.59,159.59 L425.06,156.43 L425.50,153.53 L425.96,150.42 L426.40,147.58 L426.87,144.52 L427.33,141.49 L427.77,138.72 L428.23,135.74 L428.67,133.02 L429.14,130.10 L429.60,127.20 L430.04,124.55 L430.50,121.71 L430.94,119.11 L431.41,116.32 L431.87,113.56 L432.31,111.03 L432.77,108.32 L433.21,105.85 L433.68,103.19 L434.14,100.56 L434.58,98.16 L435.04,95.59 L435.48,93.23 L435.95,90.71 L436.41,88.21 L437.03,89.00 L439.49,92.03 L441.94,94.86 L444.40,97.51 L446.86,99.99 L449.32,102.33 L451.78,104.52 L454.23,106.59 L456.69,108.54 L459.15,110.38 L461.61,112.12 L464.07,113.76 L466.52,115.32 L468.98,116.80 L471.44,118.20 L473.90,119.53 L476.36,120.79 L478.81,121.99 L481.27,123.14 L483.73,124.23 L486.19,125.27 L488.65,126.26 L491.10,127.21 L493.56,128.11 L496.02,128.98 L498.48,129.80 L500.94,130.60 L503.39,131.36 L505.85,132.08 L508.31,132.78 L510.77,133.45 L513.23,134.10 L515.68,134.71 L518.14,135.31 L520.60,135.88 L523.06,136.43 L525.52,136.96 L527.97,137.47 L530.43,137.96 L532.89,138.43 L535.35,138.89 L537.81,139.33 L540.26,139.76 L542.72,140.17 L545.18,140.57 L547.64,140.95 L550.10,141.32 L552.55,141.68 L555.01,142.03 L557.47,142.36 L559.93,142.69 L562.39,143.00 L564.84,143.31 L567.30,143.60 L569.76,143.89 L572.22,144.17 L574.68,144.44 L577.13,144.70 L579.59,144.95 L582.05,145.20 L584.51,145.44 L586.97,145.67 L589.42,145.90 L591.88,146.12 L594.34,146.33 L596.80,146.54 L599.26,146.75 L601.71,146.94 L604.17,147.13 L606.63,147.32 L609.09,147.50 L611.55,147.68 L614.00,147.85 L616.46,148.02 L618.92,148.18 L621.38,148.34 L623.84,148.50 L626.29,148.65 L628.75,148.80 L631.21,148.94 L633.67,149.09 L636.13,149.22 L638.58,149.36 L641.04,149.49 L643.50,149.62 L645.96,149.74 L648.42,149.87 L650.87,149.98 L653.33,150.10 L655.79,150.22 L658.25,150.33 L660.71,150.44 L663.16,150.54 L665.62,150.65 L668.08,150.75 L670.54,150.85 L673.00,150.95 L675.45,151.04 L677.91,151.14 L680.37,151.23 L681.60,151.27" stroke="#484848" stroke-width="1.3" fill="none" stroke-linejoin="round" clip-path="url(#clipR)"/>
<path d="M382.40,250.20 L382.83,250.16 L383.30,250.11 L383.73,250.07 L384.20,250.02 L384.63,249.98 L385.10,249.93 L385.57,249.88 L386.00,249.84 L386.47,249.79 L386.90,249.74 L387.37,249.69 L387.84,249.64 L388.27,249.59 L388.74,249.54 L389.17,249.49 L389.64,249.44 L390.11,249.39 L390.54,249.34 L391.01,249.28 L391.44,249.23 L391.91,249.17 L392.38,249.12 L392.81,249.06 L393.28,249.01 L393.71,248.95 L394.18,248.89 L394.65,248.83 L395.08,248.78 L395.55,248.72 L395.98,248.66 L396.45,248.60 L396.92,248.54 L397.35,248.48 L397.82,248.41 L398.25,248.35 L398.72,248.29 L399.19,248.22 L399.62,248.16 L400.09,248.09 L400.52,248.03 L400.99,247.96 L401.46,247.89 L401.89,247.83 L402.36,247.75 L402.79,247.69 L403.26,247.62 L403.73,247.54 L404.16,247.47 L404.63,247.40 L405.06,247.33 L405.53,247.25 L406.00,247.17 L406.43,247.10 L406.90,247.02 L407.34,246.95 L407.80,246.87 L408.27,246.79 L408.70,246.71 L409.17,246.63 L409.61,246.55 L410.07,246.47 L410.51,246.39 L410.97,246.30 L411.44,246.22 L411.88,246.13 L412.34,246.05 L412.78,245.96 L413.24,245.87 L413.71,245.78 L414.15,245.70 L414.61,245.60 L415.05,245.52 L415.30,245.46 L415.51,245.42 L415.98,245.31 L416.42,245.19 L416.88,245.04 L417.32,244.89 L417.78,244.70 L418.25,244.51 L418.69,244.31 L419.15,244.08 L419.59,243.85 L420.05,243.59 L420.52,243.32 L420.96,243.05 L421.42,242.75 L421.86,242.46 L422.32,242.13 L422.79,241.79 L423.23,241.46 L423.69,241.09 L424.13,240.74 L424.59,240.35 L425.06,239.95 L425.50,239.57 L425.96,239.15 L426.40,238.75 L426.87,238.30 L427.33,237.85 L427.77,237.42 L428.23,236.95 L428.67,236.50 L429.14,236.01 L429.60,235.51 L430.04,235.04 L430.50,234.53 L430.94,234.04 L431.41,233.51 L431.87,232.97 L432.31,232.47 L432.77,231.91 L433.21,231.39 L433.68,230.83 L434.14,230.25 L434.58,229.72 L435.04,229.13 L435.48,228.58 L435.95,227.98 L436.41,227.38 L437.03,226.59 L439.49,223.56 L441.94,220.72 L444.40,218.07 L446.86,215.58 L449.32,213.24 L451.78,211.04 L454.23,208.97 L456.69,207.01 L459.15,205.17 L461.61,203.42 L464.07,201.78 L466.52,200.22 L468.98,198.74 L471.44,197.33 L473.90,196.00 L476.36,194.73 L478.81,193.53 L481.27,192.38 L483.73,191.29 L486.19,190.25 L488.65,189.26 L491.10,188.31 L493.56,187.40 L496.02,186.53 L498.48,185.70 L500.94,184.91 L503.39,184.15 L505.85,183.42 L508.31,182.72 L510.77,182.05 L513.23,181.40 L515.68,180.78 L518.14,180.19 L520.60,179.61 L523.06,179.06 L525.52,178.53 L527.97,178.02 L530.43,177.53 L532.89,177.06 L535.35,176.60 L537.81,176.16 L540.26,175.73 L542.72,175.32 L545.18,174.92 L547.64,174.54 L550.10,174.16 L552.55,173.80 L555.01,173.46 L557.47,173.12 L559.93,172.79 L562.39,172.48 L564.84,172.17 L567.30,171.88 L569.76,171.59 L572.22,171.31 L574.68,171.04 L577.13,170.78 L579.59,170.52 L582.05,170.27 L584.51,170.03 L586.97,169.80 L589.42,169.57 L591.88,169.35 L594.34,169.14 L596.80,168.93 L599.26,168.73 L601.71,168.53 L604.17,168.34 L606.63,168.15 L609.09,167.97 L611.55,167.79 L614.00,167.62 L616.46,167.45 L618.92,167.29 L621.38,167.13 L623.84,166.97 L626.29,166.82 L628.75,166.67 L631.21,166.52 L633.67,166.38 L636.13,166.24 L638.58,166.11 L641.04,165.98 L643.50,165.85 L645.96,165.72 L648.42,165.60 L650.87,165.48 L653.33,165.36 L655.79,165.25 L658.25,165.14 L660.71,165.03 L663.16,164.92 L665.62,164.82 L668.08,164.71 L670.54,164.61 L673.00,164.52 L675.45,164.42 L677.91,164.33 L680.37,164.23 L681.60,164.19" stroke="#484848" stroke-width="1.3" fill="none" stroke-dasharray="4.3 2.9" clip-path="url(#clipR)"/>
<path d="M382.40,245.02 L382.84,244.89 L383.32,244.74 L383.77,244.60 L384.25,244.44 L384.69,244.30 L385.17,244.14 L385.65,243.98 L386.10,243.83 L386.58,243.66 L387.02,243.51 L387.50,243.33 L387.98,243.16 L388.42,243.00 L388.91,242.82 L389.35,242.65 L389.83,242.46 L390.31,242.27 L390.75,242.10 L391.23,241.90 L391.68,241.72 L392.16,241.52 L392.64,241.32 L393.08,241.13 L393.56,240.92 L394.01,240.73 L394.49,240.51 L394.97,240.29 L395.41,240.09 L395.89,239.87 L396.34,239.66 L396.82,239.43 L397.30,239.20 L397.74,238.98 L398.22,238.74 L398.66,238.52 L399.14,238.27 L399.62,238.02 L400.07,237.79 L400.55,237.53 L400.99,237.30 L401.47,237.04 L401.95,236.77 L402.40,236.52 L402.88,236.25 L403.32,236.00 L403.80,235.72 L404.28,235.44 L404.73,235.18 L405.21,234.89 L405.65,234.62 L406.13,234.32 L406.61,234.02 L407.05,233.74 L407.53,233.44 L407.98,233.15 L408.46,232.84 L408.94,232.52 L409.38,232.23 L409.86,231.90 L410.31,231.60 L410.79,231.27 L411.23,230.96 L411.71,230.62 L412.19,230.28 L412.64,229.96 L413.12,229.61 L413.56,229.29 L414.04,228.93 L414.52,228.57 L414.96,228.23 L415.44,227.86 L415.89,227.52 L416.37,227.14 L416.85,226.76 L417.29,226.40 L417.77,226.01 L418.22,225.65 L418.70,225.26 L419.18,224.85 L419.62,224.36 L420.10,220.04 L420.55,216.08 L421.03,211.84 L421.51,207.63 L421.95,203.77 L422.43,199.64 L422.87,195.85 L423.35,191.79 L423.84,187.76 L424.28,184.08 L424.76,180.13 L425.20,176.52 L425.68,172.64 L426.16,168.80 L426.61,165.29 L427.09,161.52 L427.53,158.08 L428.01,154.39 L428.49,150.73 L428.94,147.40 L429.42,143.81 L429.86,140.54 L430.34,137.04 L430.82,133.57 L431.26,130.40 L431.75,127.00 L432.19,123.90 L432.67,120.58 L433.15,117.29 L433.59,114.30 L434.07,111.09 L434.52,108.16 L435.00,105.02 L435.48,101.92 L435.92,99.09 L436.40,96.07 L436.85,93.31 L437.33,90.36 L437.81,87.44 L438.42,88.23 L440.86,91.23 L443.31,94.04 L445.75,96.68 L448.19,99.16 L450.64,101.49 L453.08,103.68 L455.53,105.75 L457.97,107.70 L460.41,109.55 L462.86,111.29 L465.30,112.94 L467.75,114.50 L470.19,115.99 L472.63,117.40 L475.08,118.73 L477.52,120.01 L479.97,121.22 L482.41,122.37 L484.86,123.47 L487.30,124.52 L489.74,125.52 L492.19,126.48 L494.63,127.40 L497.08,128.27 L499.52,129.11 L501.96,129.91 L504.41,130.68 L506.85,131.42 L509.30,132.13 L511.74,132.81 L514.18,133.46 L516.63,134.09 L519.07,134.69 L521.52,135.28 L523.96,135.84 L526.40,136.37 L528.85,136.89 L531.29,137.39 L533.74,137.88 L536.18,138.34 L538.62,138.79 L541.07,139.22 L543.51,139.64 L545.96,140.05 L548.40,140.44 L550.84,140.82 L553.29,141.19 L555.73,141.54 L558.18,141.88 L560.62,142.22 L563.06,142.54 L565.51,142.85 L567.95,143.15 L570.40,143.45 L572.84,143.73 L575.28,144.01 L577.73,144.28 L580.17,144.54 L582.62,144.79 L585.06,145.04 L587.50,145.27 L589.95,145.51 L592.39,145.73 L594.84,145.95 L597.28,146.17 L599.72,146.37 L602.17,146.58 L604.61,146.77 L607.06,146.96 L609.50,147.15 L611.94,147.33 L614.39,147.51 L616.83,147.68 L619.28,147.85 L621.72,148.02 L624.17,148.18 L626.61,148.33 L629.05,148.48 L631.50,148.63 L633.94,148.78 L636.39,148.92 L638.83,149.06 L641.27,149.19 L643.72,149.33 L646.16,149.45 L648.61,149.58 L651.05,149.70 L653.49,149.82 L655.94,149.94 L658.38,150.06 L660.83,150.17 L663.27,150.28 L665.71,150.39 L668.16,150.49 L670.60,150.60 L673.05,150.70 L675.49,150.80 L677.93,150.89 L680.38,150.99 L681.60,151.03" stroke="#1a6fe0" stroke-width="1.3" fill="none" stroke-linejoin="round" clip-path="url(#clipR)"/>
<path d="M382.40,250.20 L382.84,250.16 L383.32,250.11 L383.77,250.07 L384.25,250.02 L384.69,249.97 L385.17,249.92 L385.65,249.87 L386.10,249.83 L386.58,249.78 L387.02,249.73 L387.50,249.68 L387.98,249.62 L388.42,249.58 L388.91,249.52 L389.35,249.47 L389.83,249.42 L390.31,249.36 L390.75,249.31 L391.23,249.25 L391.68,249.20 L392.16,249.14 L392.64,249.09 L393.08,249.03 L393.56,248.97 L394.01,248.92 L394.49,248.86 L394.97,248.79 L395.41,248.74 L395.89,248.67 L396.34,248.61 L396.82,248.55 L397.30,248.49 L397.74,248.42 L398.22,248.36 L398.66,248.30 L399.14,248.23 L399.62,248.16 L400.07,248.10 L400.55,248.03 L400.99,247.96 L401.47,247.89 L401.95,247.82 L402.40,247.75 L402.88,247.67 L403.32,247.61 L403.80,247.53 L404.28,247.45 L404.73,247.38 L405.21,247.31 L405.65,247.23 L406.13,247.15 L406.61,247.07 L407.05,247.00 L407.53,246.92 L407.98,246.84 L408.46,246.76 L408.94,246.67 L409.38,246.59 L409.86,246.51 L410.31,246.43 L410.79,246.34 L411.23,246.26 L411.71,246.17 L412.19,246.07 L412.64,245.99 L413.12,245.90 L413.56,245.81 L414.04,245.72 L414.52,245.62 L414.96,245.53 L415.44,245.44 L415.89,245.34 L416.37,245.25 L416.85,245.15 L417.29,245.05 L417.77,244.95 L418.22,244.86 L418.70,244.75 L419.18,244.65 L419.62,244.55 L420.10,244.43 L420.55,244.30 L421.03,244.14 L421.51,243.97 L421.95,243.78 L422.43,243.57 L422.87,243.35 L423.35,243.10 L423.84,242.83 L424.28,242.56 L424.76,242.26 L425.20,241.96 L425.68,241.63 L426.16,241.28 L426.61,240.94 L427.09,240.56 L427.53,240.20 L428.01,239.79 L428.49,239.37 L428.94,238.97 L429.42,238.52 L429.86,238.10 L430.34,237.63 L430.82,237.14 L431.26,236.69 L431.75,236.18 L432.19,235.71 L432.67,235.18 L433.15,234.64 L433.59,234.14 L434.07,233.58 L434.52,233.06 L435.00,232.49 L435.48,231.91 L435.92,231.36 L436.40,230.76 L436.85,230.20 L437.33,229.59 L437.81,228.97 L438.42,228.18 L440.86,225.13 L443.31,222.28 L445.75,219.60 L448.19,217.09 L450.64,214.73 L453.08,212.51 L455.53,210.41 L457.97,208.43 L460.41,206.56 L462.86,204.80 L465.30,203.12 L467.75,201.54 L470.19,200.03 L472.63,198.61 L475.08,197.25 L477.52,195.96 L479.97,194.73 L482.41,193.56 L484.86,192.45 L487.30,191.38 L489.74,190.37 L492.19,189.40 L494.63,188.47 L497.08,187.58 L499.52,186.73 L501.96,185.92 L504.41,185.14 L506.85,184.39 L509.30,183.67 L511.74,182.98 L514.18,182.32 L516.63,181.68 L519.07,181.07 L521.52,180.48 L523.96,179.91 L526.40,179.37 L528.85,178.84 L531.29,178.34 L533.74,177.85 L536.18,177.37 L538.62,176.92 L541.07,176.48 L543.51,176.05 L545.96,175.64 L548.40,175.25 L550.84,174.86 L553.29,174.49 L555.73,174.13 L558.18,173.78 L560.62,173.45 L563.06,173.12 L565.51,172.80 L567.95,172.50 L570.40,172.20 L572.84,171.91 L575.28,171.63 L577.73,171.36 L580.17,171.09 L582.62,170.84 L585.06,170.59 L587.50,170.35 L589.95,170.11 L592.39,169.88 L594.84,169.66 L597.28,169.44 L599.72,169.23 L602.17,169.03 L604.61,168.83 L607.06,168.63 L609.50,168.44 L611.94,168.26 L614.39,168.08 L616.83,167.90 L619.28,167.73 L621.72,167.57 L624.17,167.41 L626.61,167.25 L629.05,167.09 L631.50,166.94 L633.94,166.79 L636.39,166.65 L638.83,166.51 L641.27,166.37 L643.72,166.24 L646.16,166.11 L648.61,165.98 L651.05,165.86 L653.49,165.73 L655.94,165.62 L658.38,165.50 L660.83,165.38 L663.27,165.27 L665.71,165.16 L668.16,165.06 L670.60,164.95 L673.05,164.85 L675.49,164.75 L677.93,164.65 L680.38,164.56 L681.60,164.51" stroke="#1a6fe0" stroke-width="1.3" fill="none" stroke-dasharray="4.3 2.9" clip-path="url(#clipR)"/>
<path d="M382.40,245.02 L382.85,244.88 L383.35,244.73 L383.80,244.59 L384.29,244.43 L384.75,244.28 L385.24,244.12 L385.73,243.95 L386.18,243.80 L386.67,243.63 L387.13,243.47 L387.62,243.29 L388.11,243.11 L388.57,242.94 L389.06,242.76 L389.51,242.58 L390.00,242.39 L390.49,242.20 L390.95,242.02 L391.44,241.82 L391.89,241.63 L392.39,241.43 L392.88,241.22 L393.33,241.02 L393.82,240.81 L394.28,240.61 L394.77,240.38 L395.26,240.16 L395.71,239.95 L396.21,239.72 L396.66,239.50 L397.15,239.27 L397.64,239.03 L398.10,238.80 L398.59,238.55 L399.04,238.32 L399.53,238.07 L400.03,237.81 L400.48,237.57 L400.97,237.31 L401.43,237.06 L401.92,236.79 L402.41,236.52 L402.86,236.26 L403.36,235.98 L403.81,235.72 L404.30,235.43 L404.79,235.14 L405.25,234.86 L405.74,234.56 L406.19,234.28 L406.68,233.98 L407.18,233.67 L407.63,233.38 L408.12,233.06 L408.58,232.76 L409.07,232.44 L409.56,232.11 L410.01,231.80 L410.50,231.47 L410.96,231.15 L411.45,230.81 L411.90,230.49 L412.40,230.13 L412.89,229.78 L413.34,229.45 L413.83,229.08 L414.29,228.74 L414.78,228.37 L415.27,227.99 L415.72,227.64 L416.22,227.26 L416.67,226.90 L417.16,226.51 L417.65,226.11 L418.11,225.74 L418.60,225.34 L419.05,224.96 L419.54,224.55 L420.04,224.13 L420.49,223.74 L420.98,223.31 L421.44,222.92 L421.93,222.48 L422.00,222.41 L422.42,218.51 L422.87,214.25 L423.36,209.68 L423.82,205.49 L424.31,201.01 L424.80,196.56 L425.26,192.50 L425.75,188.15 L426.20,184.16 L426.69,179.89 L427.19,175.67 L427.64,171.81 L428.13,167.67 L428.58,163.89 L429.08,159.83 L429.57,155.82 L430.02,152.16 L430.51,148.24 L430.97,144.66 L431.46,140.83 L431.95,137.03 L432.41,133.57 L432.90,129.87 L433.35,126.49 L433.84,122.87 L434.33,119.30 L434.79,116.04 L435.28,112.55 L435.73,109.37 L436.23,105.97 L436.72,102.61 L437.17,99.55 L437.66,96.28 L438.12,93.31 L438.61,90.12 L439.10,86.98 L439.71,87.76 L442.14,90.73 L444.57,93.52 L447.00,96.14 L449.43,98.60 L451.86,100.92 L454.29,103.10 L456.73,105.16 L459.16,107.11 L461.59,108.94 L464.02,110.69 L466.45,112.33 L468.88,113.90 L471.31,115.38 L473.74,116.79 L476.17,118.14 L478.61,119.41 L481.04,120.63 L483.47,121.79 L485.90,122.89 L488.33,123.95 L490.76,124.95 L493.19,125.92 L495.62,126.84 L498.05,127.72 L500.48,128.56 L502.92,129.37 L505.35,130.15 L507.78,130.90 L510.21,131.61 L512.64,132.30 L515.07,132.96 L517.50,133.59 L519.93,134.20 L522.36,134.79 L524.80,135.36 L527.23,135.90 L529.66,136.43 L532.09,136.93 L534.52,137.42 L536.95,137.90 L539.38,138.35 L541.81,138.79 L544.24,139.22 L546.68,139.63 L549.11,140.03 L551.54,140.41 L553.97,140.78 L556.40,141.14 L558.83,141.49 L561.26,141.83 L563.69,142.16 L566.12,142.47 L568.56,142.78 L570.99,143.08 L573.42,143.37 L575.85,143.65 L578.28,143.93 L580.71,144.19 L583.14,144.45 L585.57,144.70 L588.00,144.94 L590.43,145.18 L592.87,145.41 L595.30,145.63 L597.73,145.85 L600.16,146.06 L602.59,146.27 L605.02,146.47 L607.45,146.67 L609.88,146.86 L612.31,147.04 L614.75,147.22 L617.18,147.40 L619.61,147.57 L622.04,147.74 L624.47,147.90 L626.90,148.06 L629.33,148.22 L631.76,148.37 L634.19,148.52 L636.63,148.66 L639.06,148.81 L641.49,148.94 L643.92,149.08 L646.35,149.21 L648.78,149.34 L651.21,149.47 L653.64,149.59 L656.07,149.71 L658.50,149.83 L660.94,149.94 L663.37,150.06 L665.80,150.17 L668.23,150.27 L670.66,150.38 L673.09,150.48 L675.52,150.58 L677.95,150.68 L680.38,150.78 L681.60,150.83" stroke="#a06edc" stroke-width="1.3" fill="none" stroke-linejoin="round" clip-path="url(#clipR)"/>
<path d="M382.40,250.20 L382.85,250.16 L383.35,250.11 L383.80,250.06 L384.29,250.01 L384.75,249.97 L385.24,249.92 L385.73,249.87 L386.18,249.82 L386.67,249.77 L387.13,249.72 L387.62,249.66 L388.11,249.61 L388.57,249.56 L389.06,249.51 L389.51,249.45 L390.00,249.40 L390.49,249.34 L390.95,249.29 L391.44,249.23 L391.89,249.18 L392.39,249.12 L392.88,249.06 L393.33,249.00 L393.82,248.94 L394.28,248.88 L394.77,248.82 L395.26,248.76 L395.71,248.70 L396.21,248.63 L396.66,248.57 L397.15,248.50 L397.64,248.44 L398.10,248.38 L398.59,248.31 L399.04,248.24 L399.53,248.17 L400.03,248.10 L400.48,248.04 L400.97,247.96 L401.43,247.90 L401.92,247.82 L402.41,247.75 L402.86,247.68 L403.36,247.60 L403.81,247.53 L404.30,247.45 L404.79,247.37 L405.25,247.30 L405.74,247.22 L406.19,247.14 L406.68,247.06 L407.18,246.98 L407.63,246.90 L408.12,246.81 L408.58,246.74 L409.07,246.65 L409.56,246.56 L410.01,246.48 L410.50,246.39 L410.96,246.31 L411.45,246.21 L411.90,246.13 L412.40,246.04 L412.89,245.94 L413.34,245.85 L413.83,245.76 L414.29,245.67 L414.78,245.57 L415.27,245.47 L415.72,245.38 L416.22,245.28 L416.67,245.18 L417.16,245.08 L417.65,244.98 L418.11,244.88 L418.60,244.77 L419.05,244.67 L419.54,244.57 L420.04,244.46 L420.49,244.35 L420.98,244.24 L421.44,244.14 L421.93,244.03 L422.00,244.01 L422.42,243.90 L422.87,243.77 L423.36,243.60 L423.82,243.43 L424.31,243.22 L424.80,243.00 L425.26,242.77 L425.75,242.50 L426.20,242.24 L426.69,241.94 L427.19,241.61 L427.64,241.30 L428.13,240.95 L428.58,240.60 L429.08,240.22 L429.57,239.81 L430.02,239.43 L430.51,239.00 L430.97,238.58 L431.46,238.12 L431.95,237.65 L432.41,237.20 L432.90,236.70 L433.35,236.23 L433.84,235.71 L434.33,235.17 L434.79,234.67 L435.28,234.11 L435.73,233.59 L436.23,233.01 L436.72,232.42 L437.17,231.87 L437.66,231.26 L438.12,230.70 L438.61,230.07 L439.10,229.44 L439.71,228.65 L442.14,225.64 L444.57,222.81 L447.00,220.16 L449.43,217.66 L451.86,215.31 L454.29,213.10 L456.73,211.01 L459.16,209.04 L461.59,207.18 L464.02,205.41 L466.45,203.74 L468.88,202.15 L471.31,200.65 L473.74,199.22 L476.17,197.86 L478.61,196.56 L481.04,195.33 L483.47,194.16 L485.90,193.04 L488.33,191.97 L490.76,190.95 L493.19,189.97 L495.62,189.04 L498.05,188.14 L500.48,187.29 L502.92,186.47 L505.35,185.68 L507.78,184.92 L510.21,184.20 L512.64,183.50 L515.07,182.83 L517.50,182.19 L519.93,181.57 L522.36,180.97 L524.80,180.40 L527.23,179.85 L529.66,179.31 L532.09,178.80 L534.52,178.31 L536.95,177.83 L539.38,177.37 L541.81,176.92 L544.24,176.49 L546.68,176.07 L549.11,175.67 L551.54,175.28 L553.97,174.90 L556.40,174.54 L558.83,174.18 L561.26,173.84 L563.69,173.51 L566.12,173.18 L568.56,172.87 L570.99,172.57 L573.42,172.28 L575.85,171.99 L578.28,171.71 L580.71,171.44 L583.14,171.18 L585.57,170.93 L588.00,170.68 L590.43,170.44 L592.87,170.21 L595.30,169.98 L597.73,169.76 L600.16,169.55 L602.59,169.34 L605.02,169.13 L607.45,168.94 L609.88,168.74 L612.31,168.55 L614.75,168.37 L617.18,168.19 L619.61,168.02 L622.04,167.85 L624.47,167.68 L626.90,167.52 L629.33,167.36 L631.76,167.21 L634.19,167.06 L636.63,166.91 L639.06,166.77 L641.49,166.63 L643.92,166.49 L646.35,166.36 L648.78,166.23 L651.21,166.10 L653.64,165.97 L656.07,165.85 L658.50,165.73 L660.94,165.61 L663.37,165.50 L665.80,165.39 L668.23,165.28 L670.66,165.17 L673.09,165.07 L675.52,164.96 L677.95,164.86 L680.38,164.77 L681.60,164.72" stroke="#a06edc" stroke-width="1.3" fill="none" stroke-dasharray="4.3 2.9" clip-path="url(#clipR)"/>
<path d="M382.40,245.02 L382.86,244.88 L383.36,244.73 L383.82,244.58 L384.32,244.42 L384.78,244.27 L385.28,244.11 L385.78,243.94 L386.24,243.78 L386.74,243.60 L387.20,243.44 L387.70,243.26 L388.20,243.08 L388.66,242.91 L389.16,242.72 L389.62,242.54 L390.12,242.35 L390.62,242.15 L391.08,241.96 L391.58,241.76 L392.04,241.57 L392.54,241.36 L393.04,241.15 L393.50,240.95 L394.00,240.73 L394.46,240.52 L394.96,240.30 L395.46,240.07 L395.92,239.85 L396.42,239.62 L396.88,239.40 L397.38,239.15 L397.88,238.91 L398.34,238.68 L398.84,238.42 L399.30,238.19 L399.80,237.93 L400.30,237.67 L400.76,237.42 L401.26,237.15 L401.72,236.90 L402.22,236.62 L402.72,236.34 L403.18,236.08 L403.68,235.79 L404.15,235.52 L404.64,235.22 L405.14,234.92 L405.61,234.64 L406.10,234.34 L406.57,234.05 L407.07,233.74 L407.56,233.42 L408.03,233.12 L408.52,232.80 L408.99,232.49 L409.49,232.16 L409.98,231.82 L410.45,231.51 L410.95,231.16 L411.41,230.84 L411.91,230.49 L412.37,230.16 L412.87,229.79 L413.37,229.43 L413.83,229.09 L414.33,228.71 L414.79,228.36 L415.29,227.98 L415.79,227.60 L416.25,227.24 L416.75,226.84 L417.21,226.47 L417.71,226.07 L418.21,225.66 L418.67,225.28 L419.17,224.86 L419.63,224.48 L420.13,224.05 L420.63,223.62 L421.09,223.22 L421.59,222.78 L422.05,222.37 L422.55,221.93 L423.05,221.47 L423.51,221.05 L424.01,220.59 L424.20,220.41 L424.47,217.75 L424.97,212.72 L425.47,207.75 L425.93,203.20 L426.43,198.33 L426.89,193.88 L427.39,189.11 L427.89,184.39 L428.35,180.09 L428.85,175.47 L429.31,171.26 L429.81,166.75 L430.31,162.30 L430.77,158.23 L431.27,153.88 L431.73,149.91 L432.23,145.66 L432.73,141.46 L433.19,137.64 L433.69,133.55 L434.15,129.82 L434.65,125.83 L435.15,121.89 L435.61,118.30 L436.11,114.47 L436.57,110.98 L437.07,107.25 L437.57,103.57 L438.03,100.23 L438.53,96.66 L438.99,93.41 L439.49,89.94 L439.99,86.52 L440.60,87.29 L443.02,90.25 L445.44,93.03 L447.86,95.64 L450.28,98.09 L452.71,100.41 L455.13,102.59 L457.55,104.65 L459.97,106.59 L462.40,108.43 L464.82,110.17 L467.24,111.83 L469.66,113.39 L472.08,114.88 L474.51,116.30 L476.93,117.64 L479.35,118.92 L481.77,120.14 L484.19,121.31 L486.62,122.42 L489.04,123.48 L491.46,124.49 L493.88,125.46 L496.31,126.39 L498.73,127.28 L501.15,128.13 L503.57,128.94 L505.99,129.73 L508.42,130.48 L510.84,131.20 L513.26,131.89 L515.68,132.56 L518.10,133.20 L520.53,133.81 L522.95,134.41 L525.37,134.98 L527.79,135.53 L530.22,136.06 L532.64,136.57 L535.06,137.07 L537.48,137.55 L539.90,138.01 L542.33,138.45 L544.75,138.88 L547.17,139.30 L549.59,139.70 L552.01,140.09 L554.44,140.47 L556.86,140.83 L559.28,141.18 L561.70,141.53 L564.13,141.86 L566.55,142.18 L568.97,142.49 L571.39,142.80 L573.81,143.09 L576.24,143.38 L578.66,143.65 L581.08,143.92 L583.50,144.18 L585.92,144.44 L588.35,144.68 L590.77,144.92 L593.19,145.16 L595.61,145.39 L598.04,145.61 L600.46,145.82 L602.88,146.03 L605.30,146.24 L607.72,146.43 L610.15,146.63 L612.57,146.82 L614.99,147.00 L617.41,147.18 L619.84,147.36 L622.26,147.53 L624.68,147.69 L627.10,147.85 L629.52,148.01 L631.95,148.17 L634.37,148.32 L636.79,148.47 L639.21,148.61 L641.63,148.75 L644.06,148.89 L646.48,149.02 L648.90,149.15 L651.32,149.28 L653.75,149.41 L656.17,149.53 L658.59,149.65 L661.01,149.77 L663.43,149.88 L665.86,150.00 L668.28,150.11 L670.70,150.21 L673.12,150.32 L675.54,150.42 L677.97,150.52 L680.39,150.62 L681.60,150.67" stroke="#12c6c6" stroke-width="1.3" fill="none" stroke-linejoin="round" clip-path="url(#clipR)"/>
<path d="M382.40,250.20 L382.86,250.16 L383.36,250.11 L383.82,250.06 L384.32,250.01 L384.78,249.96 L385.28,249.91 L385.78,249.86 L386.24,249.81 L386.74,249.76 L387.20,249.71 L387.70,249.66 L388.20,249.60 L388.66,249.55 L389.16,249.49 L389.62,249.44 L390.12,249.38 L390.62,249.33 L391.08,249.27 L391.58,249.21 L392.04,249.16 L392.54,249.10 L393.04,249.04 L393.50,248.98 L394.00,248.92 L394.46,248.86 L394.96,248.79 L395.46,248.73 L395.92,248.67 L396.42,248.60 L396.88,248.54 L397.38,248.47 L397.88,248.40 L398.34,248.34 L398.84,248.27 L399.30,248.21 L399.80,248.13 L400.30,248.06 L400.76,247.99 L401.26,247.92 L401.72,247.85 L402.22,247.78 L402.72,247.70 L403.18,247.63 L403.68,247.55 L404.15,247.48 L404.64,247.40 L405.14,247.32 L405.61,247.24 L406.10,247.16 L406.57,247.08 L407.07,247.00 L407.56,246.91 L408.03,246.83 L408.52,246.74 L408.99,246.66 L409.49,246.57 L409.98,246.48 L410.45,246.40 L410.95,246.31 L411.41,246.22 L411.91,246.13 L412.37,246.04 L412.87,245.95 L413.37,245.85 L413.83,245.76 L414.33,245.66 L414.79,245.57 L415.29,245.47 L415.79,245.37 L416.25,245.27 L416.75,245.17 L417.21,245.07 L417.71,244.96 L418.21,244.86 L418.67,244.76 L419.17,244.65 L419.63,244.55 L420.13,244.44 L420.63,244.32 L421.09,244.22 L421.59,244.10 L422.05,244.00 L422.55,243.88 L423.05,243.76 L423.51,243.65 L424.01,243.53 L424.20,243.49 L424.47,243.42 L424.97,243.27 L425.47,243.10 L425.93,242.92 L426.43,242.71 L426.89,242.49 L427.39,242.23 L427.89,241.95 L428.35,241.67 L428.85,241.35 L429.31,241.04 L429.81,240.68 L430.31,240.31 L430.77,239.94 L431.27,239.53 L431.73,239.14 L432.23,238.70 L432.73,238.24 L433.19,237.80 L433.69,237.31 L434.15,236.85 L434.65,236.34 L435.15,235.81 L435.61,235.31 L436.11,234.75 L436.57,234.23 L437.07,233.65 L437.57,233.06 L438.03,232.51 L438.53,231.89 L438.99,231.32 L439.49,230.69 L439.99,230.05 L440.60,229.27 L443.02,226.26 L445.44,223.44 L447.86,220.79 L450.28,218.29 L452.71,215.94 L455.13,213.73 L457.55,211.64 L459.97,209.66 L462.40,207.79 L464.82,206.02 L467.24,204.34 L469.66,202.75 L472.08,201.24 L474.51,199.80 L476.93,198.44 L479.35,197.14 L481.77,195.90 L484.19,194.71 L486.62,193.59 L489.04,192.51 L491.46,191.48 L493.88,190.49 L496.31,189.55 L498.73,188.65 L501.15,187.79 L503.57,186.96 L505.99,186.16 L508.42,185.40 L510.84,184.67 L513.26,183.96 L515.68,183.29 L518.10,182.64 L520.53,182.01 L522.95,181.41 L525.37,180.83 L527.79,180.27 L530.22,179.73 L532.64,179.21 L535.06,178.71 L537.48,178.22 L539.90,177.75 L542.33,177.30 L544.75,176.86 L547.17,176.44 L549.59,176.03 L552.01,175.64 L554.44,175.25 L556.86,174.88 L559.28,174.52 L561.70,174.18 L564.13,173.84 L566.55,173.51 L568.97,173.20 L571.39,172.89 L573.81,172.59 L576.24,172.30 L578.66,172.02 L581.08,171.74 L583.50,171.48 L585.92,171.22 L588.35,170.97 L590.77,170.73 L593.19,170.49 L595.61,170.26 L598.04,170.03 L600.46,169.81 L602.88,169.60 L605.30,169.39 L607.72,169.19 L610.15,169.00 L612.57,168.80 L614.99,168.62 L617.41,168.43 L619.84,168.26 L622.26,168.08 L624.68,167.91 L627.10,167.75 L629.52,167.59 L631.95,167.43 L634.37,167.28 L636.79,167.13 L639.21,166.98 L641.63,166.84 L644.06,166.70 L646.48,166.56 L648.90,166.43 L651.32,166.30 L653.75,166.17 L656.17,166.05 L658.59,165.93 L661.01,165.81 L663.43,165.69 L665.86,165.58 L668.28,165.46 L670.70,165.35 L673.12,165.25 L675.54,165.14 L677.97,165.04 L680.39,164.94 L681.60,164.89" stroke="#12c6c6" stroke-width="1.3" fill="none" stroke-dasharray="4.3 2.9" clip-path="url(#clipR)"/>
<path d="M382.40,245.02 L382.87,244.88 L383.38,244.72 L383.86,244.57 L384.37,244.41 L384.84,244.25 L385.35,244.08 L385.86,243.91 L386.34,243.75 L386.85,243.57 L387.32,243.40 L387.83,243.21 L388.34,243.03 L388.82,242.85 L389.33,242.66 L389.80,242.47 L390.31,242.27 L390.82,242.07 L391.30,241.88 L391.81,241.67 L392.28,241.47 L392.79,241.25 L393.30,241.03 L393.78,240.83 L394.29,240.60 L394.76,240.39 L395.27,240.15 L395.78,239.92 L396.25,239.70 L396.77,239.45 L397.24,239.22 L397.75,238.97 L398.26,238.72 L398.73,238.48 L399.25,238.22 L399.72,237.97 L400.23,237.70 L400.74,237.43 L401.21,237.18 L401.73,236.90 L402.20,236.63 L402.71,236.35 L403.22,236.06 L403.69,235.78 L404.21,235.48 L404.68,235.20 L405.19,234.90 L405.70,234.59 L406.17,234.30 L406.69,233.98 L407.16,233.68 L407.67,233.35 L408.18,233.02 L408.65,232.71 L409.16,232.37 L409.64,232.06 L410.15,231.71 L410.66,231.36 L411.13,231.03 L411.64,230.67 L412.12,230.33 L412.63,229.97 L413.10,229.62 L413.61,229.25 L414.12,228.86 L414.60,228.51 L415.11,228.12 L415.58,227.76 L416.09,227.36 L416.60,226.95 L417.08,226.58 L417.59,226.17 L418.06,225.78 L418.57,225.36 L419.08,224.93 L419.56,224.54 L420.07,224.10 L420.54,223.70 L421.05,223.25 L421.56,222.80 L422.04,222.38 L422.55,221.93 L423.02,221.50 L423.53,221.03 L424.04,220.56 L424.52,220.12 L425.03,219.63 L425.50,219.18 L426.01,218.69 L426.52,218.20 L426.60,218.12 L426.99,213.99 L427.51,208.60 L427.98,203.67 L428.49,198.40 L429.00,193.19 L429.47,188.43 L429.99,183.34 L430.46,178.70 L430.97,173.73 L431.48,168.83 L431.95,164.36 L432.47,159.57 L432.94,155.21 L433.45,150.55 L433.96,145.95 L434.43,141.76 L434.95,137.28 L435.42,133.20 L435.93,128.85 L436.44,124.55 L436.91,120.65 L437.43,116.47 L437.90,112.68 L438.41,108.63 L438.92,104.64 L439.39,101.02 L439.90,97.15 L440.38,93.64 L440.89,89.89 L441.40,86.21 L442.00,86.97 L444.41,89.89 L446.82,92.64 L449.23,95.22 L451.63,97.65 L454.04,99.94 L456.45,102.10 L458.86,104.15 L461.27,106.08 L463.67,107.91 L466.08,109.65 L468.49,111.29 L470.90,112.85 L473.31,114.34 L475.71,115.75 L478.12,117.10 L480.53,118.38 L482.94,119.60 L485.35,120.76 L487.75,121.88 L490.16,122.94 L492.57,123.96 L494.98,124.93 L497.39,125.86 L499.79,126.75 L502.20,127.61 L504.61,128.43 L507.02,129.22 L509.43,129.97 L511.83,130.70 L514.24,131.40 L516.65,132.07 L519.06,132.71 L521.47,133.34 L523.88,133.94 L526.28,134.51 L528.69,135.07 L531.10,135.61 L533.51,136.12 L535.92,136.62 L538.32,137.11 L540.73,137.57 L543.14,138.02 L545.55,138.46 L547.96,138.88 L550.36,139.29 L552.77,139.68 L555.18,140.06 L557.59,140.44 L560.00,140.79 L562.40,141.14 L564.81,141.48 L567.22,141.80 L569.63,142.12 L572.04,142.43 L574.44,142.73 L576.85,143.02 L579.26,143.30 L581.67,143.57 L584.08,143.84 L586.48,144.10 L588.89,144.35 L591.30,144.59 L593.71,144.83 L596.12,145.06 L598.52,145.29 L600.93,145.51 L603.34,145.72 L605.75,145.93 L608.16,146.13 L610.56,146.33 L612.97,146.52 L615.38,146.71 L617.79,146.89 L620.20,147.07 L622.60,147.24 L625.01,147.41 L627.42,147.58 L629.83,147.74 L632.24,147.90 L634.64,148.05 L637.05,148.20 L639.46,148.35 L641.87,148.50 L644.28,148.64 L646.68,148.77 L649.09,148.91 L651.50,149.04 L653.91,149.17 L656.32,149.29 L658.72,149.42 L661.13,149.54 L663.54,149.65 L665.95,149.77 L668.36,149.88 L670.76,149.99 L673.17,150.10 L675.58,150.20 L677.99,150.31 L680.40,150.41 L681.60,150.46" stroke="#ff6400" stroke-width="1.6" fill="none" stroke-linejoin="round" clip-path="url(#clipR)"/>
<path d="M382.40,250.20 L382.87,250.15 L383.38,250.10 L383.86,250.06 L384.37,250.01 L384.84,249.96 L385.35,249.90 L385.86,249.85 L386.34,249.80 L386.85,249.75 L387.32,249.70 L387.83,249.64 L388.34,249.58 L388.82,249.53 L389.33,249.47 L389.80,249.42 L390.31,249.36 L390.82,249.30 L391.30,249.25 L391.81,249.19 L392.28,249.13 L392.79,249.07 L393.30,249.00 L393.78,248.95 L394.29,248.88 L394.76,248.82 L395.27,248.75 L395.78,248.69 L396.25,248.63 L396.77,248.56 L397.24,248.49 L397.75,248.42 L398.26,248.35 L398.73,248.29 L399.25,248.21 L399.72,248.15 L400.23,248.07 L400.74,248.00 L401.21,247.93 L401.73,247.85 L402.20,247.78 L402.71,247.70 L403.22,247.62 L403.69,247.55 L404.21,247.47 L404.68,247.39 L405.19,247.31 L405.70,247.22 L406.17,247.15 L406.69,247.06 L407.16,246.98 L407.67,246.89 L408.18,246.80 L408.65,246.72 L409.16,246.63 L409.64,246.55 L410.15,246.45 L410.66,246.36 L411.13,246.27 L411.64,246.18 L412.12,246.09 L412.63,245.99 L413.10,245.90 L413.61,245.80 L414.12,245.70 L414.60,245.61 L415.11,245.50 L415.58,245.41 L416.09,245.30 L416.60,245.20 L417.08,245.10 L417.59,244.99 L418.06,244.89 L418.57,244.78 L419.08,244.67 L419.56,244.56 L420.07,244.45 L420.54,244.34 L421.05,244.23 L421.56,244.11 L422.04,244.00 L422.55,243.88 L423.02,243.77 L423.53,243.65 L424.04,243.52 L424.52,243.41 L425.03,243.28 L425.50,243.17 L426.01,243.04 L426.52,242.91 L426.60,242.89 L426.99,242.78 L427.51,242.62 L427.98,242.45 L428.49,242.23 L429.00,242.00 L429.47,241.75 L429.99,241.47 L430.46,241.19 L430.97,240.86 L431.48,240.52 L431.95,240.18 L432.47,239.79 L432.94,239.42 L433.45,238.99 L433.96,238.55 L434.43,238.13 L434.95,237.65 L435.42,237.19 L435.93,236.69 L436.44,236.16 L436.91,235.67 L437.43,235.11 L437.90,234.59 L438.41,234.01 L438.92,233.42 L439.39,232.86 L439.90,232.24 L440.38,231.66 L440.89,231.02 L441.40,230.37 L442.00,229.60 L444.41,226.63 L446.82,223.84 L449.23,221.22 L451.63,218.75 L454.04,216.42 L456.45,214.23 L458.86,212.15 L461.27,210.19 L463.67,208.33 L466.08,206.56 L468.49,204.89 L470.90,203.30 L473.31,201.80 L475.71,200.36 L478.12,199.00 L480.53,197.69 L482.94,196.45 L485.35,195.27 L487.75,194.14 L490.16,193.06 L492.57,192.03 L494.98,191.04 L497.39,190.09 L499.79,189.19 L502.20,188.32 L504.61,187.48 L507.02,186.68 L509.43,185.92 L511.83,185.18 L514.24,184.47 L516.65,183.79 L519.06,183.13 L521.47,182.50 L523.88,181.89 L526.28,181.30 L528.69,180.74 L531.10,180.19 L533.51,179.67 L535.92,179.16 L538.32,178.67 L540.73,178.20 L543.14,177.74 L545.55,177.30 L547.96,176.87 L550.36,176.45 L552.77,176.05 L555.18,175.66 L557.59,175.29 L560.00,174.92 L562.40,174.57 L564.81,174.23 L567.22,173.90 L569.63,173.57 L572.04,173.26 L574.44,172.96 L576.85,172.66 L579.26,172.38 L581.67,172.10 L584.08,171.83 L586.48,171.57 L588.89,171.31 L591.30,171.06 L593.71,170.82 L596.12,170.59 L598.52,170.36 L600.93,170.14 L603.34,169.92 L605.75,169.71 L608.16,169.50 L610.56,169.30 L612.97,169.11 L615.38,168.91 L617.79,168.73 L620.20,168.55 L622.60,168.37 L625.01,168.20 L627.42,168.03 L629.83,167.87 L632.24,167.71 L634.64,167.55 L637.05,167.40 L639.46,167.25 L641.87,167.10 L644.28,166.96 L646.68,166.82 L649.09,166.68 L651.50,166.55 L653.91,166.42 L656.32,166.29 L658.72,166.17 L661.13,166.04 L663.54,165.92 L665.95,165.81 L668.36,165.69 L670.76,165.58 L673.17,165.47 L675.58,165.37 L677.99,165.26 L680.40,165.16 L681.60,165.11" stroke="#ff6400" stroke-width="1.6" fill="none" stroke-dasharray="4.3 2.9" clip-path="url(#clipR)"/>
<path d="M429.75,250.2 V245.7 M480.12,250.2 V245.7 M530.49,250.2 V245.7 M580.86,250.2 V245.7 M631.23,250.2 V245.7 M382.4,188.55 H386.8 M382.4,126.9 H386.8 M382.4,65.25 H386.8" stroke="#333" stroke-width="1" fill="none"/>
<rect x="382.4" y="3.6" width="299.2" height="246.6" fill="none" stroke="#3a3a3a" stroke-width="1.3"/>
<g font-size="9" fill="#111" stroke="#111" stroke-width="0.15"><text x="377.1" y="253.3" text-anchor="end">0</text><text x="377.1" y="191.65" text-anchor="end">20</text><text x="377.1" y="130" text-anchor="end">40</text><text x="377.1" y="68.35" text-anchor="end">60</text><text x="377.1" y="6.7" text-anchor="end">80</text><text x="429.75" y="262.4" text-anchor="middle">6</text><text x="480.12" y="262.4" text-anchor="middle">9</text><text x="530.49" y="262.4" text-anchor="middle">12</text><text x="580.86" y="262.4" text-anchor="middle">15</text><text x="631.23" y="262.4" text-anchor="middle">18</text><text x="681.6" y="262.4" text-anchor="middle">21</text></g>
<!-- left params -->
<g font-size="8" fill="#1a1a1a" stroke="#1a1a1a" stroke-width="0.1">
<text x="215.1" y="14.7"><tspan class="it">B</tspan>=0.5</text>
<text x="215.1" y="23.9"><tspan class="it">R</tspan><tspan class="it" font-size="6" dy="2.1">0</tspan><tspan dy="-2.1">=3.18m</tspan></text>
<text x="215.1" y="35.8"><tspan class="it">P</tspan><tspan class="it" font-size="6" dy="2.1">i</tspan><tspan dy="-2.1">= 0 MPa</tspan></text>
<text x="215.1" y="48.2"><tspan class="it">σ</tspan><tspan class="it" font-size="6" dy="2.1">c</tspan><tspan dy="-2.1">=25 MPa</tspan></text>
<text x="215.1" y="59.4"><tspan class="it">i</tspan>=5</text>
<text x="215.1" y="70.5"><tspan class="it">P</tspan><tspan class="it" font-size="6" dy="2.1">0</tspan><tspan dy="-2.1">= 30 MPa</tspan></text>
</g>
<!-- left legend -->
<g stroke-width="1.2">
<path d="M269,12.4H287.6" stroke="#484848"/>
<path d="M269,24.4H287.6" stroke="#1a6fe0" stroke-width="1.3"/>
<path d="M269,36.3H287.6" stroke="#a06edc" stroke-width="1.3"/>
<path d="M269,48.1H287.6" stroke="#12c6c6" stroke-width="1.3"/>
<path d="M269,59.9H287.6" stroke="#ff6400" stroke-width="1.8"/>
</g>
<g font-size="8" fill="#1a1a1a" stroke="#1a1a1a" stroke-width="0.1">
<text x="289" y="14.8"><tspan class="it">D</tspan><tspan class="it" font-size="6" dy="2.1">3</tspan><tspan dy="-2.1">=50%</tspan></text>
<text x="289" y="26.7"><tspan class="it">D</tspan><tspan class="it" font-size="6" dy="2.1">3</tspan><tspan dy="-2.1">=70%</tspan></text>
<text x="289" y="38.6"><tspan class="it">D</tspan><tspan class="it" font-size="6" dy="2.1">3</tspan><tspan dy="-2.1">=90%</tspan></text>
<text x="289" y="50.4"><tspan class="it">D</tspan><tspan class="it" font-size="6" dy="2.1">3</tspan><tspan dy="-2.1">=95%</tspan></text>
<text x="289" y="62.2"><tspan class="it">D</tspan><tspan class="it" font-size="6" dy="2.1">3</tspan><tspan dy="-2.1">=99%</tspan></text>
</g>
<!-- right params -->
<g font-size="8" fill="#1a1a1a" stroke="#1a1a1a" stroke-width="0.1">
<text x="572.3" y="14.3"><tspan class="it">B</tspan>=0.5</text>
<text x="572.3" y="24"><tspan class="it">R</tspan><tspan class="it" font-size="6" dy="2.1">0</tspan><tspan dy="-2.1">=3.18m</tspan></text>
<text x="572.3" y="35.8"><tspan class="it">P</tspan><tspan class="it" font-size="6" dy="2.1">i</tspan><tspan dy="-2.1">= 0 MPa</tspan></text>
<text x="572.3" y="48.2"><tspan class="it">σ</tspan><tspan class="it" font-size="6" dy="2.1">c</tspan><tspan dy="-2.1">=25 MPa</tspan></text>
<text x="572.3" y="59.8"><tspan class="it">D</tspan><tspan class="it" font-size="6" dy="2.1">3</tspan><tspan dy="-2.1">= 95%</tspan></text>
<text x="572.3" y="71.7"><tspan class="it">P</tspan><tspan class="it" font-size="6" dy="2.1">0</tspan><tspan dy="-2.1">= 30 MPa</tspan></text>
</g>
<!-- right legend -->
<g stroke-width="1.2">
<path d="M626,12.4H644.6" stroke="#484848"/>
<path d="M626,22.5H644.6" stroke="#1a6fe0" stroke-width="1.3"/>
<path d="M626,32.8H644.6" stroke="#a06edc" stroke-width="1.3"/>
<path d="M626,42.9H644.6" stroke="#12c6c6" stroke-width="1.3"/>
<path d="M626,52.9H644.6" stroke="#ff6400" stroke-width="1.8"/>
</g>
<g font-size="8" fill="#1a1a1a" stroke="#1a1a1a" stroke-width="0.1">
<text x="646.5" y="15.1"><tspan class="it">i</tspan>=4</text>
<text x="646.5" y="25.2"><tspan class="it">i</tspan>=5</text>
<text x="646.5" y="35.5"><tspan class="it">i</tspan>=6</text>
<text x="646.5" y="45.6"><tspan class="it">i</tspan>=7</text>
<text x="646.5" y="55.6"><tspan class="it">i</tspan>=8</text>
</g>
<!-- in-plot labels -->
<g fill="#111" stroke="#111" stroke-width="0.04">
<g transform="translate(224.3,136.3) scale(1.5,1)"><text x="0" y="0" font-size="11" class="it">σ</text><text x="4.8" y="3.0" font-size="7.5" class="it">θ</text></g>
<g transform="translate(203.5,189.1) scale(1.5,1)"><text x="0" y="0" font-size="11" class="it">σ</text><text x="5.8" y="2.2" font-size="7.5" class="it">r</text></g>
<g transform="translate(586.2,135.7) scale(1.5,1)"><text x="0" y="0" font-size="11" class="it">σ</text><text x="4.9" y="3.0" font-size="7.5" class="it">θ</text></g>
<g transform="translate(591.2,184.9) scale(1.5,1)"><text x="0" y="0" font-size="11" class="it">σ</text><text x="5.8" y="2.7" font-size="7.5" class="it">r</text></g>
</g>
<!-- axis titles -->
<g transform="translate(8.7,149.5) rotate(-90)" fill="#111" stroke="#111" stroke-width="0.15">
<text x="0" y="0" font-size="12" class="it">σ</text>
<text x="5.2" y="3.1" font-size="8.6" class="it">θ</text>
<path d="M11.2,-2.6 L13.4,-0.4" stroke-width="1.1" fill="none"/>
<text x="21" y="0" font-size="12" class="it">σ</text>
<text x="26.6" y="2.7" font-size="8.6" class="it">r</text>
<text x="32.6" y="0" font-size="11.5">/MPa</text>
</g>
<g transform="translate(365.5,149.5) rotate(-90)" fill="#111" stroke="#111" stroke-width="0.15">
<text x="0" y="0" font-size="12" class="it">σ</text>
<text x="5.2" y="3.1" font-size="8.6" class="it">θ</text>
<path d="M11.2,-2.6 L13.4,-0.4" stroke-width="1.1" fill="none"/>
<text x="21" y="0" font-size="12" class="it">σ</text>
<text x="26.6" y="2.7" font-size="8.6" class="it">r</text>
<text x="32.6" y="0" font-size="11.5">/MPa</text>
</g>
<g font-size="11" fill="#222">
<text x="165" y="276.9" font-size="11.7"><tspan class="it">r</tspan>/m</text>
<text x="522.3" y="276.9" font-size="11.7"><tspan class="it">r</tspan>/m</text>
</g>
<!-- captions -->
<g font-size="18" fill="#111" stroke="#111" stroke-width="0.2">
<text x="90.6" y="324.3">(a) As</text>
<text x="141.6" y="324.3" class="it">D</text>
<text x="153.3" y="328.8" font-size="10" class="it">3</text>
<text x="166.6" y="324.3">changes</text>
<text x="453.5" y="324.3">(b) As</text>
<text x="503.2" y="324.3" class="it">i</text>
<text x="517.6" y="324.3">changes</text>
</g>
</svg>
</body></html>
